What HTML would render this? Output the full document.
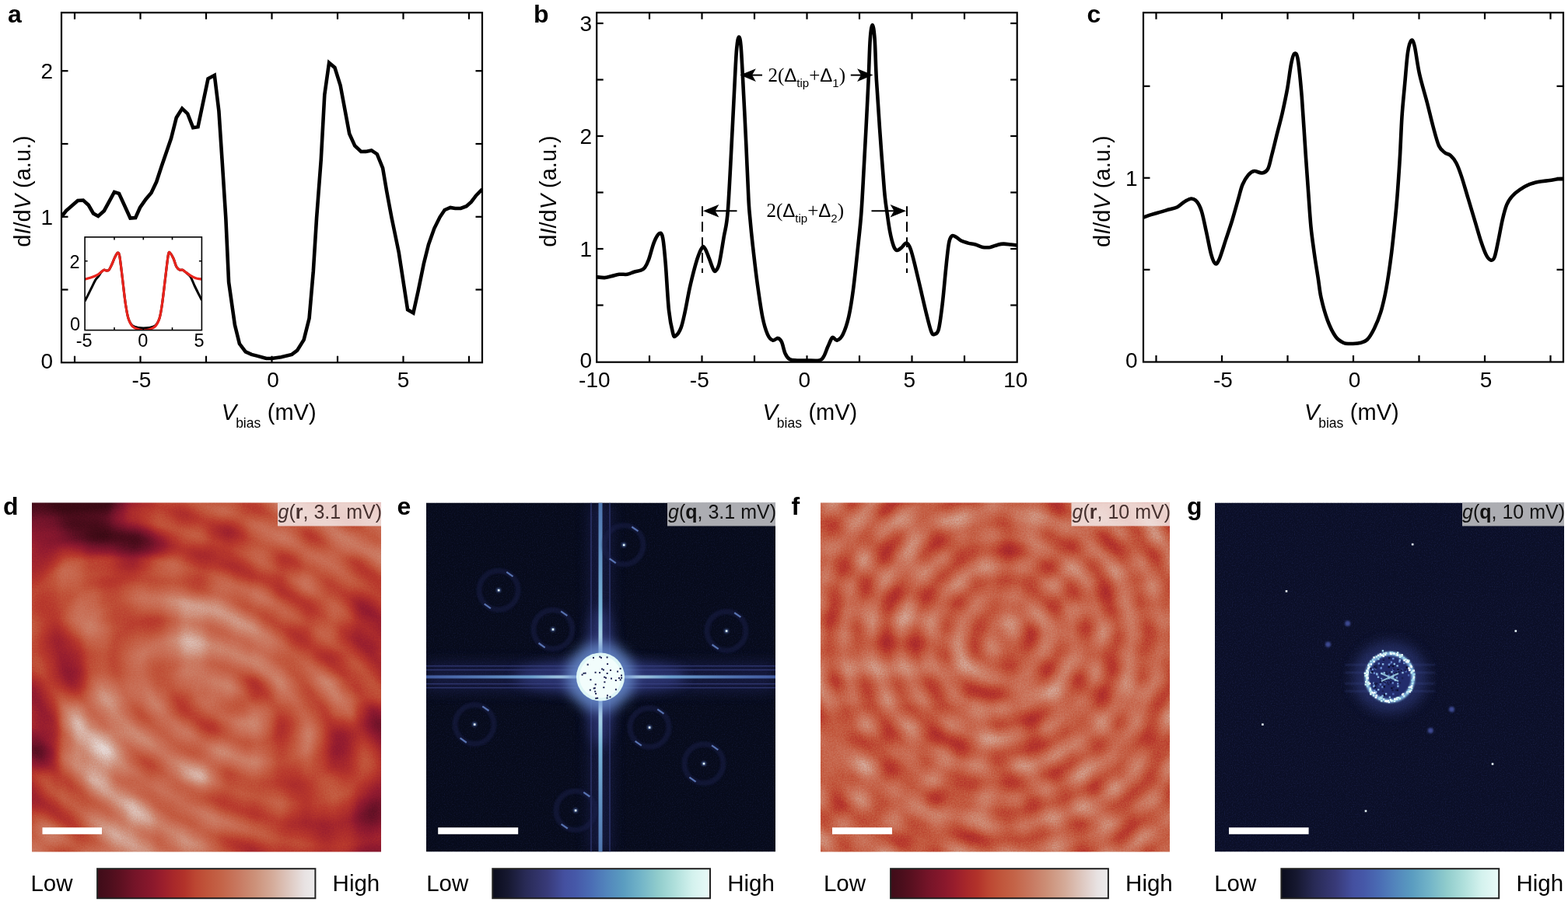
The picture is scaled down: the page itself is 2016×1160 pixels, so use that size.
<!DOCTYPE html>
<html><head><meta charset="utf-8"><title>Figure</title>
<style>
html,body{margin:0;padding:0;background:#fff;width:2016px;height:1160px;overflow:hidden}
svg{display:block}
rect.p{}
</style></head><body>
<svg width="2016" height="1160" viewBox="0 0 2016 1160">
<style>.px rect{width:17.87px;height:17.87px}</style>
<rect width="2016" height="1160" fill="#fff"/>
<g stroke="#000" stroke-width="2.2" fill="none">
<rect x="79" y="16.25" width="541" height="450.0" fill="none" stroke="#000" stroke-width="2.2"/>
<line x1="96.0" y1="466.25" x2="96.0" y2="457.75" /><line x1="96.0" y1="16.25" x2="96.0" y2="24.75" /><line x1="180.5" y1="466.25" x2="180.5" y2="457.75" /><line x1="180.5" y1="16.25" x2="180.5" y2="24.75" /><line x1="265.0" y1="466.25" x2="265.0" y2="457.75" /><line x1="265.0" y1="16.25" x2="265.0" y2="24.75" /><line x1="349.5" y1="466.25" x2="349.5" y2="457.75" /><line x1="349.5" y1="16.25" x2="349.5" y2="24.75" /><line x1="434.0" y1="466.25" x2="434.0" y2="457.75" /><line x1="434.0" y1="16.25" x2="434.0" y2="24.75" /><line x1="518.5" y1="466.25" x2="518.5" y2="457.75" /><line x1="518.5" y1="16.25" x2="518.5" y2="24.75" /><line x1="603.0" y1="466.25" x2="603.0" y2="457.75" /><line x1="603.0" y1="16.25" x2="603.0" y2="24.75" />
<line x1="79" y1="372.5" x2="87.5" y2="372.5" /><line x1="620" y1="372.5" x2="611.5" y2="372.5" /><line x1="79" y1="278.8" x2="87.5" y2="278.8" /><line x1="620" y1="278.8" x2="611.5" y2="278.8" /><line x1="79" y1="185.0" x2="87.5" y2="185.0" /><line x1="620" y1="185.0" x2="611.5" y2="185.0" /><line x1="79" y1="91.2" x2="87.5" y2="91.2" /><line x1="620" y1="91.2" x2="611.5" y2="91.2" />
</g>
<clipPath id="ca"><rect x="79" y="16.25" width="541" height="450.0"/></clipPath>
<path clip-path="url(#ca)" d="M79.0,278.8 L85.0,271.0 L100.0,258.0 L107.0,257.5 L113.8,263.8 L120.0,274.5 L126.2,278.0 L133.8,271.2 L147.0,247.0 L153.0,248.8 L167.5,280.5 L174.2,280.0 L180.0,267.0 L187.5,256.2 L194.5,248.0 L201.2,233.8 L207.5,214.5 L220.0,178.0 L226.8,151.2 L234.2,139.5 L241.2,146.2 L248.2,164.2 L254.5,163.2 L267.5,101.2 L275.8,96.8 L281.4,142.8 L285.5,204.8 L290.3,280.0 L294.1,362.8 L301.9,417.9 L307.9,442.1 L315.7,452.4 L323.4,455.9 L330.3,457.6 L342.4,461.0 L349.3,461.0 L361.4,459.3 L375.2,455.9 L382.1,450.7 L390.7,436.9 L397.6,409.3 L402.8,349.0 L407.1,280.0 L412.8,204.8 L417.3,122.0 L423.1,80.7 L430.4,86.9 L437.6,109.7 L449.2,172.0 L456.2,187.5 L464.2,195.0 L470.3,194.9 L477.6,193.4 L484.8,198.2 L492.1,216.2 L497.2,246.2 L503.4,279.3 L512.8,324.8 L524.1,398.3 L531.4,402.4 L537.6,374.5 L544.8,339.3 L551.0,314.5 L558.3,293.8 L565.5,279.3 L571.7,270.0 L579.0,266.9 L585.2,268.0 L592.4,268.0 L599.7,265.2 L605.9,259.7 L612.1,251.4 L618.3,245.2 L620.0,243.5" fill="none" stroke="#000" stroke-width="4.6" stroke-linejoin="miter" stroke-miterlimit="3"/>
<rect x="109.1" y="304.9" width="150.29999999999998" height="119.70000000000005" fill="#fff" stroke="none"/>
<clipPath id="ci"><rect x="109.1" y="304.9" width="150.29999999999998" height="119.70000000000005"/></clipPath>
<path clip-path="url(#ci)" d="M109.1,387.4 C110.4,384.9 114.4,376.8 116.7,372.2 C119.0,367.6 121.3,362.6 122.9,359.8 C124.5,357.1 125.1,357.4 126.4,355.7 C127.7,354.0 129.2,350.9 130.5,349.5 C131.8,348.1 132.9,347.3 133.9,347.1 C134.9,346.9 135.7,348.1 136.7,348.1 C137.7,348.1 138.9,348.4 140.1,347.1 C141.2,345.8 142.3,343.2 143.6,340.5 C144.9,337.8 146.4,333.4 147.7,330.8 C149.0,328.2 150.2,325.6 151.2,325.1 C152.2,324.7 152.8,325.5 153.5,328.1 C154.2,330.7 154.5,334.5 155.3,340.5 C156.1,346.5 157.1,355.4 158.1,363.9 C159.1,372.4 160.3,383.9 161.5,391.5 C162.7,399.1 163.5,404.8 165.0,409.4 C166.5,414.0 168.2,417.0 170.5,419.0 C172.8,421.0 176.5,421.0 178.8,421.5 C181.1,422.0 182.2,422.0 184.3,422.0 C186.4,422.0 188.7,422.0 191.2,421.5 C193.7,421.0 197.1,421.0 199.4,419.0 C201.7,417.0 203.5,414.0 205.0,409.4 C206.5,404.8 207.3,399.1 208.4,391.5 C209.5,383.9 210.8,372.4 211.8,363.9 C212.8,355.4 213.8,346.8 214.6,340.5 C215.4,334.2 216.0,328.5 216.7,326.0 C217.4,323.5 217.7,324.3 218.7,325.3 C219.7,326.3 221.5,329.2 222.9,332.2 C224.3,335.2 225.6,340.8 227.0,343.3 C228.4,345.8 229.8,346.5 231.1,347.1 C232.4,347.7 233.4,346.7 234.6,347.1 C235.8,347.5 236.3,348.0 238.0,349.5 C239.7,351.0 242.8,352.9 244.9,356.0 C247.0,359.1 248.0,363.0 250.4,368.0 C252.8,373.0 257.9,383.0 259.4,386.0" fill="none" stroke="#000" stroke-width="3"/>
<path clip-path="url(#ci)" d="M109.1,359.1 C110.4,358.8 114.0,357.9 116.7,357.0 C119.4,356.1 122.7,354.9 125.0,353.6 C127.3,352.4 129.0,350.6 130.5,349.5 C132.0,348.4 132.9,347.3 133.9,347.1 C134.9,346.9 135.7,348.1 136.7,348.1 C137.7,348.1 138.9,348.4 140.1,347.1 C141.2,345.8 142.3,343.2 143.6,340.5 C144.9,337.8 146.4,333.4 147.7,330.8 C149.0,328.2 150.2,325.6 151.2,325.1 C152.2,324.7 152.8,325.5 153.5,328.1 C154.2,330.7 154.5,334.5 155.3,340.5 C156.1,346.5 157.1,355.4 158.1,363.9 C159.1,372.4 160.3,383.9 161.5,391.5 C162.7,399.1 163.5,404.7 165.0,409.4 C166.5,414.1 168.2,417.4 170.5,419.8 C172.8,422.2 176.5,423.1 178.8,423.9 C181.1,424.7 182.2,424.6 184.3,424.6 C186.4,424.6 188.7,424.7 191.2,423.9 C193.7,423.1 197.1,422.2 199.4,419.8 C201.7,417.4 203.5,414.1 205.0,409.4 C206.5,404.7 207.3,399.1 208.4,391.5 C209.5,383.9 210.8,372.4 211.8,363.9 C212.8,355.4 213.8,346.8 214.6,340.5 C215.4,334.2 216.0,328.5 216.7,326.0 C217.4,323.5 217.7,324.3 218.7,325.3 C219.7,326.3 221.5,329.2 222.9,332.2 C224.3,335.2 225.6,340.8 227.0,343.3 C228.4,345.8 229.8,346.5 231.1,347.1 C232.4,347.7 233.4,346.7 234.6,347.1 C235.8,347.5 236.3,348.3 238.0,349.5 C239.7,350.7 242.6,352.9 244.9,354.3 C247.2,355.7 249.4,356.9 251.8,357.7 C254.2,358.5 258.1,358.9 259.4,359.1" fill="none" stroke="#e8231c" stroke-width="3.2"/>
<g stroke="#000" stroke-width="1.6" fill="none">
<rect x="109.1" y="304.9" width="150.29999999999998" height="119.70000000000005" fill="none" stroke="#000" stroke-width="1.6"/>
<line x1="147.0" y1="424.6" x2="147.0" y2="421.1" /><line x1="147.0" y1="304.9" x2="147.0" y2="308.4" /><line x1="184.3" y1="424.6" x2="184.3" y2="421.1" /><line x1="184.3" y1="304.9" x2="184.3" y2="308.4" /><line x1="221.5" y1="424.6" x2="221.5" y2="421.1" /><line x1="221.5" y1="304.9" x2="221.5" y2="308.4" />
<line x1="109.1" y1="335.7" x2="112.6" y2="335.7" /><line x1="259.4" y1="335.7" x2="255.89999999999998" y2="335.7" />
</g>
<text x="102.6" y="344.5" font-family="'Liberation Sans', Arial, sans-serif" font-size="23.5" font-weight="normal" font-style="normal" text-anchor="end" fill="#000" >2</text>
<text x="103.0" y="425.3" font-family="'Liberation Sans', Arial, sans-serif" font-size="23.5" font-weight="normal" font-style="normal" text-anchor="end" fill="#000" >0</text>
<text x="97.8" y="446.2" font-family="'Liberation Sans', Arial, sans-serif" font-size="23.5" font-weight="normal" font-style="normal" text-anchor="start" fill="#000" >-5</text>
<text x="177.2" y="446.2" font-family="'Liberation Sans', Arial, sans-serif" font-size="23.5" font-weight="normal" font-style="normal" text-anchor="start" fill="#000" >0</text>
<text x="249.6" y="446.2" font-family="'Liberation Sans', Arial, sans-serif" font-size="23.5" font-weight="normal" font-style="normal" text-anchor="start" fill="#000" >5</text>
<text x="10" y="28.7" font-family="'Liberation Sans', Arial, sans-serif" font-size="32" font-weight="bold" font-style="normal" text-anchor="start" fill="#000" >a</text>
<text x="68" y="101" font-family="'Liberation Sans', Arial, sans-serif" font-size="28" font-weight="normal" font-style="normal" text-anchor="end" fill="#000" >2</text>
<text x="68" y="289" font-family="'Liberation Sans', Arial, sans-serif" font-size="28" font-weight="normal" font-style="normal" text-anchor="end" fill="#000" >1</text>
<text x="68" y="474" font-family="'Liberation Sans', Arial, sans-serif" font-size="28" font-weight="normal" font-style="normal" text-anchor="end" fill="#000" >0</text>
<text x="182.0" y="497.8" font-family="'Liberation Sans', Arial, sans-serif" font-size="28" font-weight="normal" font-style="normal" text-anchor="middle" fill="#000" >-5</text>
<text x="351.0" y="497.8" font-family="'Liberation Sans', Arial, sans-serif" font-size="28" font-weight="normal" font-style="normal" text-anchor="middle" fill="#000" >0</text>
<text x="518.5" y="497.8" font-family="'Liberation Sans', Arial, sans-serif" font-size="28" font-weight="normal" font-style="normal" text-anchor="middle" fill="#000" >5</text>
<text x="284.8" y="540.3" font-family="'Liberation Sans', Arial, sans-serif" font-size="29" fill="#000"><tspan font-style="italic">V</tspan><tspan font-size="17.5" dy="9.8" dx="-1">bias</tspan><tspan dy="-9.8" dx="8.5">(mV)</tspan></text>
<text transform="translate(38.5,246) rotate(-90)" x="0" y="0" text-anchor="middle" font-family="'Liberation Sans', Arial, sans-serif" font-size="29" fill="#000">d<tspan font-style="italic">I</tspan>/d<tspan font-style="italic">V</tspan> (a.u.)</text>
<g stroke="#000" stroke-width="2.2" fill="none">
<rect x="767.2" y="16.25" width="540.5" height="449.45" fill="none" stroke="#000" stroke-width="2.2"/>
<line x1="835.0" y1="465.7" x2="835.0" y2="457.2" /><line x1="835.0" y1="16.25" x2="835.0" y2="24.75" /><line x1="902.5" y1="465.7" x2="902.5" y2="457.2" /><line x1="902.5" y1="16.25" x2="902.5" y2="24.75" /><line x1="970.0" y1="465.7" x2="970.0" y2="457.2" /><line x1="970.0" y1="16.25" x2="970.0" y2="24.75" /><line x1="1037.5" y1="465.7" x2="1037.5" y2="457.2" /><line x1="1037.5" y1="16.25" x2="1037.5" y2="24.75" /><line x1="1105.0" y1="465.7" x2="1105.0" y2="457.2" /><line x1="1105.0" y1="16.25" x2="1105.0" y2="24.75" /><line x1="1172.5" y1="465.7" x2="1172.5" y2="457.2" /><line x1="1172.5" y1="16.25" x2="1172.5" y2="24.75" /><line x1="1240.0" y1="465.7" x2="1240.0" y2="457.2" /><line x1="1240.0" y1="16.25" x2="1240.0" y2="24.75" />
<line x1="767.2" y1="392.5" x2="775.7" y2="392.5" /><line x1="1307.7" y1="392.5" x2="1299.2" y2="392.5" /><line x1="767.2" y1="320.0" x2="775.7" y2="320.0" /><line x1="1307.7" y1="320.0" x2="1299.2" y2="320.0" /><line x1="767.2" y1="247.5" x2="775.7" y2="247.5" /><line x1="1307.7" y1="247.5" x2="1299.2" y2="247.5" /><line x1="767.2" y1="175.0" x2="775.7" y2="175.0" /><line x1="1307.7" y1="175.0" x2="1299.2" y2="175.0" /><line x1="767.2" y1="102.5" x2="775.7" y2="102.5" /><line x1="1307.7" y1="102.5" x2="1299.2" y2="102.5" /><line x1="767.2" y1="30.0" x2="775.7" y2="30.0" /><line x1="1307.7" y1="30.0" x2="1299.2" y2="30.0" />
</g>
<path d="M767.2,356.2 C768.9,356.4 774.1,357.2 777.2,357.1 C780.3,357.0 782.7,356.0 785.9,355.3 C789.1,354.6 792.8,353.2 796.2,352.8 C799.7,352.4 803.4,353.3 806.6,352.8 C809.8,352.3 812.3,350.6 815.2,349.7 C818.1,348.8 821.5,348.5 823.8,347.6 C826.1,346.7 827.3,346.4 829.0,344.1 C830.7,341.8 832.1,339.2 834.1,333.8 C836.1,328.4 838.7,317.0 841.0,311.4 C843.3,305.8 846.0,301.1 847.9,300.2 C849.8,299.3 850.9,299.7 852.2,306.2 C853.5,312.7 854.4,323.5 855.7,339.0 C857.0,354.5 858.4,384.4 860.0,399.3 C861.6,414.2 863.8,423.1 865.2,428.6 C866.6,434.1 866.9,433.2 868.6,432.1 C870.3,431.0 873.5,426.9 875.5,421.7 C877.5,416.5 878.7,410.2 880.7,401.0 C882.7,391.8 885.0,377.8 887.6,366.6 C890.2,355.4 893.7,341.9 896.2,333.8 C898.7,325.8 901.1,320.6 902.8,318.3 C904.5,316.0 905.1,317.7 906.6,320.0 C908.1,322.3 910.0,327.8 911.7,332.1 C913.4,336.4 915.5,343.2 916.9,345.9 C918.3,348.6 918.7,349.5 920.0,348.4 C921.3,347.2 922.9,346.3 924.7,339.0 C926.5,331.7 928.8,316.0 930.7,304.5 C932.6,293.0 934.1,293.3 935.9,270.0 C937.7,246.7 940.2,192.7 941.7,164.8 C943.2,136.9 943.9,119.9 944.8,102.8 C945.7,85.7 946.3,71.2 947.2,62.0 C948.1,52.8 949.1,47.5 950.0,47.5 C950.9,47.5 951.8,49.3 952.8,62.0 C953.8,74.7 955.1,102.9 956.2,123.5 C957.3,144.1 958.3,163.6 959.3,185.5 C960.3,207.4 961.6,239.5 962.4,255.0 C963.2,270.5 963.2,268.2 964.1,278.4 C965.0,288.6 966.3,302.2 967.9,316.4 C969.5,330.6 971.5,348.6 973.6,363.8 C975.7,379.0 978.1,396.3 980.3,407.4 C982.5,418.5 984.7,425.1 986.9,430.2 C989.1,435.2 991.3,436.9 993.5,437.7 C995.7,438.5 998.3,434.6 1000.2,434.9 C1002.1,435.2 1003.3,436.3 1004.9,439.6 C1006.5,442.9 1007.9,451.1 1009.6,454.8 C1011.3,458.5 1012.8,460.6 1015.3,462.0 C1017.8,463.4 1021.2,463.2 1024.8,463.5 C1028.4,463.8 1032.3,463.5 1037.1,463.5 C1041.8,463.5 1049.6,464.3 1053.3,463.5 C1057.0,462.7 1057.1,461.6 1059.0,458.6 C1060.9,455.6 1062.7,449.4 1064.6,445.3 C1066.5,441.2 1068.4,435.3 1070.3,434.0 C1072.2,432.7 1073.8,438.3 1076.0,437.7 C1078.2,437.1 1081.1,435.2 1083.6,430.2 C1086.1,425.1 1089.0,416.9 1091.2,407.4 C1093.4,397.9 1095.0,387.5 1096.9,373.3 C1098.8,359.1 1100.9,338.5 1102.6,322.1 C1104.3,305.7 1106.0,291.7 1107.3,274.7 C1108.6,257.7 1109.5,238.3 1110.5,220.0 C1111.5,201.7 1112.5,184.3 1113.5,164.8 C1114.5,145.3 1115.7,121.9 1116.6,102.8 C1117.5,83.7 1117.9,61.8 1118.8,50.0 C1119.7,38.2 1120.7,32.0 1121.7,32.0 C1122.7,32.0 1123.7,38.2 1124.6,50.0 C1125.5,61.8 1125.8,83.7 1126.9,102.8 C1128.0,121.9 1129.3,141.1 1131.0,164.8 C1132.7,188.5 1135.4,227.0 1137.0,245.0 C1138.6,263.0 1139.2,264.1 1140.4,272.8 C1141.6,281.5 1142.7,290.1 1144.1,297.4 C1145.5,304.7 1147.4,312.3 1148.9,316.4 C1150.4,320.5 1151.6,321.7 1153.3,322.0 C1155.0,322.3 1157.3,319.9 1159.3,318.3 C1161.3,316.7 1163.5,312.2 1165.4,312.5 C1167.3,312.8 1168.9,315.4 1170.7,320.2 C1172.5,325.0 1174.2,332.2 1176.4,341.1 C1178.6,350.0 1181.5,362.6 1184.0,373.3 C1186.5,384.1 1189.4,396.8 1191.6,405.6 C1193.8,414.5 1195.7,422.3 1197.3,426.4 C1198.9,430.5 1199.5,430.5 1201.1,430.0 C1202.7,429.5 1205.1,429.9 1206.8,423.6 C1208.5,417.3 1209.9,405.4 1211.5,392.3 C1213.1,379.2 1214.8,358.2 1216.2,344.9 C1217.6,331.6 1218.7,319.5 1220.0,312.6 C1221.3,305.7 1222.2,304.8 1223.8,303.5 C1225.4,302.2 1227.4,303.9 1229.5,305.0 C1231.6,306.1 1233.7,308.5 1236.2,309.8 C1238.7,311.1 1241.7,311.8 1244.7,312.6 C1247.7,313.4 1251.0,313.6 1254.2,314.5 C1257.4,315.4 1260.5,317.3 1263.7,317.9 C1266.9,318.5 1270.1,318.4 1273.2,317.9 C1276.3,317.4 1279.8,315.6 1282.6,314.9 C1285.4,314.2 1287.3,313.7 1290.2,313.6 C1293.1,313.5 1296.8,314.2 1299.7,314.5 C1302.6,314.8 1306.4,315.3 1307.7,315.5" fill="none" stroke="#000" stroke-width="4.6" stroke-linejoin="round"/>
<g stroke="#000" stroke-width="2" stroke-dasharray="12.8,7.2" stroke-dashoffset="-3.8">
<line x1="903" y1="261.5" x2="903" y2="351"/>
<line x1="1166" y1="261.5" x2="1166" y2="351"/>
</g>
<line x1="980" y1="96.6" x2="961.5" y2="96.6" stroke="#000" stroke-width="2"/><path d="M951.5,96.6 L971.9,88.3 L967.0,96.6 L971.9,104.89999999999999 Z" fill="#000"/>
<line x1="1093.8" y1="96.6" x2="1112.5" y2="96.6" stroke="#000" stroke-width="2"/><path d="M1122.5,96.6 L1102.1,88.3 L1107.0,96.6 L1102.1,104.89999999999999 Z" fill="#000"/>
<line x1="947.5" y1="271.2" x2="914" y2="271.2" stroke="#000" stroke-width="2"/><path d="M904,271.2 L924.4,262.9 L919.5,271.2 L924.4,279.5 Z" fill="#000"/>
<line x1="1120.5" y1="271.2" x2="1155" y2="271.2" stroke="#000" stroke-width="2"/><path d="M1165,271.2 L1144.6,262.9 L1149.5,271.2 L1144.6,279.5 Z" fill="#000"/>
<text x="987.5" y="104.5" font-family="'Liberation Serif', 'Times New Roman', serif" font-size="25" fill="#000">2(<tspan font-family="'Liberation Sans', Arial, sans-serif" font-size="24">Δ</tspan><tspan font-family="'Liberation Sans', Arial, sans-serif" font-size="15" dy="7">tip</tspan><tspan dy="-7">+</tspan><tspan font-family="'Liberation Sans', Arial, sans-serif" font-size="24">Δ</tspan><tspan font-family="'Liberation Sans', Arial, sans-serif" font-size="15" dy="7">1</tspan><tspan dy="-7">)</tspan></text>
<text x="985.5" y="279.4" font-family="'Liberation Serif', 'Times New Roman', serif" font-size="25" fill="#000">2(<tspan font-family="'Liberation Sans', Arial, sans-serif" font-size="24">Δ</tspan><tspan font-family="'Liberation Sans', Arial, sans-serif" font-size="15" dy="7">tip</tspan><tspan dy="-7">+</tspan><tspan font-family="'Liberation Sans', Arial, sans-serif" font-size="24">Δ</tspan><tspan font-family="'Liberation Sans', Arial, sans-serif" font-size="15" dy="7">2</tspan><tspan dy="-7">)</tspan></text>
<text x="686" y="28.5" font-family="'Liberation Sans', Arial, sans-serif" font-size="32" font-weight="bold" font-style="normal" text-anchor="start" fill="#000" >b</text>
<text x="761" y="40.2" font-family="'Liberation Sans', Arial, sans-serif" font-size="28" font-weight="normal" font-style="normal" text-anchor="end" fill="#000" >3</text>
<text x="761" y="185.2" font-family="'Liberation Sans', Arial, sans-serif" font-size="28" font-weight="normal" font-style="normal" text-anchor="end" fill="#000" >2</text>
<text x="761" y="330.2" font-family="'Liberation Sans', Arial, sans-serif" font-size="28" font-weight="normal" font-style="normal" text-anchor="end" fill="#000" >1</text>
<text x="761" y="473.2" font-family="'Liberation Sans', Arial, sans-serif" font-size="28" font-weight="normal" font-style="normal" text-anchor="end" fill="#000" >0</text>
<text x="764.3" y="497.5" font-family="'Liberation Sans', Arial, sans-serif" font-size="28" font-weight="normal" font-style="normal" text-anchor="middle" fill="#000" >-10</text>
<text x="899.3" y="497.5" font-family="'Liberation Sans', Arial, sans-serif" font-size="28" font-weight="normal" font-style="normal" text-anchor="middle" fill="#000" >-5</text>
<text x="1034.3" y="497.5" font-family="'Liberation Sans', Arial, sans-serif" font-size="28" font-weight="normal" font-style="normal" text-anchor="middle" fill="#000" >0</text>
<text x="1169.3" y="497.5" font-family="'Liberation Sans', Arial, sans-serif" font-size="28" font-weight="normal" font-style="normal" text-anchor="middle" fill="#000" >5</text>
<text x="1305.8" y="497.5" font-family="'Liberation Sans', Arial, sans-serif" font-size="28" font-weight="normal" font-style="normal" text-anchor="middle" fill="#000" >10</text>
<text x="980.5" y="540.3" font-family="'Liberation Sans', Arial, sans-serif" font-size="29" fill="#000"><tspan font-style="italic">V</tspan><tspan font-size="17.5" dy="9.8" dx="-1">bias</tspan><tspan dy="-9.8" dx="8.5">(mV)</tspan></text>
<text transform="translate(715,246) rotate(-90)" x="0" y="0" text-anchor="middle" font-family="'Liberation Sans', Arial, sans-serif" font-size="29" fill="#000">d<tspan font-style="italic">I</tspan>/d<tspan font-style="italic">V</tspan> (a.u.)</text>
<g stroke="#000" stroke-width="2.2" fill="none">
<rect x="1470" y="16.25" width="540" height="449.25" fill="none" stroke="#000" stroke-width="2.2"/>
<line x1="1486.5" y1="465.5" x2="1486.5" y2="457.0" /><line x1="1486.5" y1="16.25" x2="1486.5" y2="24.75" /><line x1="1571.0" y1="465.5" x2="1571.0" y2="457.0" /><line x1="1571.0" y1="16.25" x2="1571.0" y2="24.75" /><line x1="1655.5" y1="465.5" x2="1655.5" y2="457.0" /><line x1="1655.5" y1="16.25" x2="1655.5" y2="24.75" /><line x1="1740.0" y1="465.5" x2="1740.0" y2="457.0" /><line x1="1740.0" y1="16.25" x2="1740.0" y2="24.75" /><line x1="1824.5" y1="465.5" x2="1824.5" y2="457.0" /><line x1="1824.5" y1="16.25" x2="1824.5" y2="24.75" /><line x1="1909.0" y1="465.5" x2="1909.0" y2="457.0" /><line x1="1909.0" y1="16.25" x2="1909.0" y2="24.75" /><line x1="1993.5" y1="465.5" x2="1993.5" y2="457.0" /><line x1="1993.5" y1="16.25" x2="1993.5" y2="24.75" />
<line x1="1470" y1="346.8" x2="1478.5" y2="346.8" /><line x1="2010" y1="346.8" x2="2001.5" y2="346.8" /><line x1="1470" y1="228.8" x2="1478.5" y2="228.8" /><line x1="2010" y1="228.8" x2="2001.5" y2="228.8" /><line x1="1470" y1="110.8" x2="1478.5" y2="110.8" /><line x1="2010" y1="110.8" x2="2001.5" y2="110.8" />
</g>
<path d="M1469.9,279.7 C1471.7,279.1 1476.8,277.1 1480.7,275.9 C1484.6,274.7 1489.3,273.5 1493.1,272.4 C1496.9,271.3 1500.0,270.3 1503.4,269.3 C1506.9,268.3 1510.7,267.8 1513.8,266.2 C1516.9,264.6 1519.2,261.8 1522.1,260.0 C1525.0,258.2 1528.7,255.7 1531.4,255.5 C1534.2,255.3 1536.4,256.4 1538.6,259.0 C1540.8,261.6 1542.7,264.8 1544.8,271.4 C1546.9,277.9 1548.9,289.0 1551.0,298.3 C1553.1,307.6 1555.3,320.4 1557.2,327.2 C1559.1,334.0 1560.7,337.9 1562.4,339.0 C1564.1,340.1 1565.3,338.6 1567.6,333.5 C1569.8,328.4 1573.2,316.9 1575.9,308.6 C1578.7,300.3 1581.3,292.8 1584.1,283.8 C1586.8,274.8 1590.2,262.5 1592.4,254.8 C1594.6,247.1 1595.4,242.5 1597.5,237.5 C1599.6,232.5 1602.5,227.9 1605.0,225.0 C1607.5,222.1 1609.6,220.4 1612.5,220.0 C1615.4,219.6 1619.6,222.9 1622.5,222.5 C1625.4,222.1 1627.9,221.2 1630.0,217.5 C1632.1,213.8 1633.1,207.1 1635.0,200.0 C1636.9,192.9 1639.0,184.2 1641.2,175.0 C1643.5,165.8 1646.5,155.0 1648.8,145.0 C1651.0,135.0 1653.1,125.4 1655.0,115.0 C1656.9,104.6 1658.5,90.2 1660.0,82.5 C1661.5,74.8 1662.8,69.9 1664.2,69.0 C1665.7,68.1 1667.2,67.7 1668.8,77.0 C1670.3,86.3 1672.1,104.5 1673.8,125.0 C1675.4,145.5 1677.3,179.1 1678.8,200.0 C1680.2,220.9 1681.3,235.4 1682.4,250.7 C1683.5,266.0 1684.3,279.6 1685.5,292.0 C1686.7,304.4 1688.2,314.1 1689.7,325.2 C1691.2,336.2 1693.3,348.6 1694.8,358.3 C1696.3,368.0 1696.6,374.1 1698.6,383.1 C1700.6,392.1 1703.8,403.8 1706.9,412.1 C1710.0,420.4 1713.8,428.0 1717.2,432.8 C1720.7,437.6 1724.5,439.5 1727.6,441.0 C1730.7,442.5 1732.5,442.0 1735.9,442.0 C1739.4,442.0 1744.7,441.8 1748.3,441.0 C1751.9,440.2 1754.5,440.1 1757.6,437.0 C1760.7,433.9 1764.0,428.3 1766.9,422.4 C1769.8,416.5 1772.6,410.3 1775.2,401.7 C1777.8,393.1 1780.2,382.8 1782.4,370.7 C1784.6,358.6 1786.7,344.1 1788.6,329.3 C1790.5,314.5 1792.4,295.5 1793.8,281.7 C1795.2,267.9 1795.9,260.2 1796.9,246.6 C1797.9,233.0 1799.1,216.1 1800.0,200.0 C1800.9,183.9 1801.5,165.4 1802.5,150.0 C1803.5,134.6 1805.0,121.2 1806.2,107.5 C1807.5,93.8 1808.6,76.8 1810.0,67.5 C1811.4,58.2 1813.0,53.3 1814.5,52.0 C1816.0,50.7 1817.0,52.3 1818.8,59.5 C1820.5,66.7 1822.3,82.8 1825.0,95.0 C1827.7,107.2 1832.1,121.2 1835.0,132.5 C1837.9,143.8 1840.0,153.3 1842.5,162.5 C1845.0,171.7 1847.5,181.9 1850.0,187.5 C1852.5,193.1 1855.0,194.2 1857.5,196.2 C1860.0,198.3 1862.5,197.8 1865.0,200.0 C1867.5,202.2 1870.0,205.1 1872.4,209.7 C1874.8,214.3 1876.8,220.0 1879.3,227.6 C1881.8,235.2 1884.8,246.0 1887.6,255.2 C1890.4,264.4 1893.2,273.6 1895.9,282.8 C1898.7,292.0 1901.6,302.7 1904.1,310.3 C1906.6,317.9 1908.9,324.3 1911.0,328.3 C1913.1,332.3 1914.9,334.1 1916.6,334.5 C1918.3,334.9 1919.8,335.0 1921.4,331.0 C1923.0,327.0 1924.5,318.3 1926.2,310.3 C1927.9,302.3 1929.9,290.6 1931.7,282.8 C1933.5,275.0 1935.1,268.5 1937.2,263.4 C1939.3,258.3 1941.3,255.6 1944.1,252.4 C1946.9,249.2 1950.1,246.6 1953.8,244.1 C1957.5,241.6 1962.1,238.9 1966.2,237.2 C1970.3,235.5 1974.2,234.7 1978.6,233.8 C1983.0,232.9 1988.3,232.6 1992.4,232.0 C1996.5,231.4 2000.5,230.6 2003.4,230.3 C2006.3,230.0 2008.7,230.1 2009.7,230.1" fill="none" stroke="#000" stroke-width="4.6" stroke-linejoin="round"/>
<text x="1397.5" y="28.7" font-family="'Liberation Sans', Arial, sans-serif" font-size="32" font-weight="bold" font-style="normal" text-anchor="start" fill="#000" >c</text>
<text x="1462.5" y="238.95" font-family="'Liberation Sans', Arial, sans-serif" font-size="28" font-weight="normal" font-style="normal" text-anchor="end" fill="#000" >1</text>
<text x="1462.5" y="473.25" font-family="'Liberation Sans', Arial, sans-serif" font-size="28" font-weight="normal" font-style="normal" text-anchor="end" fill="#000" >0</text>
<text x="1572.5" y="497.5" font-family="'Liberation Sans', Arial, sans-serif" font-size="28" font-weight="normal" font-style="normal" text-anchor="middle" fill="#000" >-5</text>
<text x="1741.5" y="497.5" font-family="'Liberation Sans', Arial, sans-serif" font-size="28" font-weight="normal" font-style="normal" text-anchor="middle" fill="#000" >0</text>
<text x="1910.5" y="497.5" font-family="'Liberation Sans', Arial, sans-serif" font-size="28" font-weight="normal" font-style="normal" text-anchor="middle" fill="#000" >5</text>
<text x="1676.9" y="540.3" font-family="'Liberation Sans', Arial, sans-serif" font-size="29" fill="#000"><tspan font-style="italic">V</tspan><tspan font-size="17.5" dy="9.8" dx="-1">bias</tspan><tspan dy="-9.8" dx="8.5">(mV)</tspan></text>
<text transform="translate(1427,246.2) rotate(-90)" x="0" y="0" text-anchor="middle" font-family="'Liberation Sans', Arial, sans-serif" font-size="29" fill="#000">d<tspan font-style="italic">I</tspan>/d<tspan font-style="italic">V</tspan> (a.u.)</text>

<defs>
<filter id="bl8" x="-5%" y="-5%" width="110%" height="110%"><feGaussianBlur stdDeviation="6"/></filter>
<filter id="bl3"><feGaussianBlur stdDeviation="3"/></filter>
<filter id="bl6" x="-50%" y="-50%" width="200%" height="200%"><feGaussianBlur stdDeviation="8"/></filter>
<filter id="bl1" x="-50%" y="-50%" width="200%" height="200%"><feGaussianBlur stdDeviation="1.2"/></filter>
<filter id="bl2" x="-50%" y="-50%" width="200%" height="200%"><feGaussianBlur stdDeviation="2"/></filter>
<clipPath id="clipd"><rect x="41" y="646.5" width="449" height="449"/></clipPath>
<clipPath id="clipe"><rect x="548" y="646.5" width="449" height="449"/></clipPath>
<clipPath id="clipf"><rect x="1055" y="646.5" width="449" height="449"/></clipPath>
<clipPath id="clipg"><rect x="1562" y="646.5" width="449" height="449"/></clipPath>
<linearGradient id="gr" x1="0" x2="1" y1="0" y2="0"><stop offset="0" stop-color="#3e0c18"/><stop offset="0.05" stop-color="#4a0e1c"/><stop offset="0.1" stop-color="#5a1020"/><stop offset="0.17" stop-color="#741428"/><stop offset="0.25" stop-color="#8a182c"/><stop offset="0.3" stop-color="#9a1e2c"/><stop offset="0.35" stop-color="#a8282a"/><stop offset="0.4" stop-color="#b2322a"/><stop offset="0.45" stop-color="#bc4632"/><stop offset="0.5" stop-color="#c0543a"/><stop offset="0.57" stop-color="#c46448"/><stop offset="0.65" stop-color="#c87a62"/><stop offset="0.72" stop-color="#cc9078"/><stop offset="0.8" stop-color="#d4aa98"/><stop offset="0.88" stop-color="#dec8c0"/><stop offset="0.95" stop-color="#e8e2e2"/><stop offset="1" stop-color="#ecebec"/></linearGradient>
<linearGradient id="gb" x1="0" x2="1" y1="0" y2="0"><stop offset="0" stop-color="#0a0c1c"/><stop offset="0.07" stop-color="#161830"/><stop offset="0.15" stop-color="#282a55"/><stop offset="0.25" stop-color="#383a78"/><stop offset="0.33" stop-color="#4450a0"/><stop offset="0.38" stop-color="#4658a8"/><stop offset="0.45" stop-color="#4a6cb4"/><stop offset="0.52" stop-color="#5284bc"/><stop offset="0.6" stop-color="#5a9cc0"/><stop offset="0.68" stop-color="#72b4c8"/><stop offset="0.76" stop-color="#90cccc"/><stop offset="0.84" stop-color="#b0e0dc"/><stop offset="0.92" stop-color="#d4f2ee"/><stop offset="1" stop-color="#eafaf8"/></linearGradient>
<filter id="fd" filterUnits="userSpaceOnUse" x="11" y="616.5" width="509" height="509" color-interpolation-filters="sRGB"><feColorMatrix in="SourceGraphic" type="matrix" values="1 0 0 0 0 1 0 0 0 0 1 0 0 0 0 0 0 0 0 1" result="r0"/><feGaussianBlur in="r0" stdDeviation="6" result="base"/><feColorMatrix in="SourceGraphic" type="matrix" values="0 1 0 0 0 0 1 0 0 0 0 1 0 0 0 0 0 0 0 1" result="g0"/><feGaussianBlur in="g0" stdDeviation="3" result="ring"/><feTurbulence type="fractalNoise" baseFrequency="0.025" numOctaves="1" seed="3" result="nz"/><feColorMatrix in="nz" type="matrix" values="1 0 0 0 0 1 0 0 0 0 1 0 0 0 0 0 0 0 0 1" result="n1"/><feTurbulence type="fractalNoise" baseFrequency="0.6" numOctaves="1" seed="8" result="gz"/><feColorMatrix in="gz" type="matrix" values="1 0 0 0 0 1 0 0 0 0 1 0 0 0 0 0 0 0 0 1" result="g1"/><feComposite in="base" in2="ring" operator="arithmetic" k1="0" k2="1" k3="0.16" k4="-0.08" result="s0"/><feComposite in="s0" in2="n1" operator="arithmetic" k1="0" k2="1" k3="0.3" k4="-0.15" result="s1"/><feComposite in="s1" in2="g1" operator="arithmetic" k1="0" k2="1" k3="0.1" k4="-0.05" result="s2"/><feComponentTransfer in="s2"><feFuncR type="table" tableValues="0.231 0.260 0.290 0.323 0.361 0.399 0.435 0.468 0.502 0.533 0.563 0.594 0.624 0.653 0.680 0.703 0.725 0.738 0.750 0.761 0.771 0.780 0.788 0.794 0.800 0.808 0.815 0.826 0.841 0.856 0.876 0.899 0.922"/><feFuncG type="table" tableValues="0.039 0.044 0.048 0.054 0.061 0.068 0.074 0.080 0.086 0.094 0.102 0.115 0.135 0.156 0.178 0.203 0.227 0.267 0.307 0.343 0.375 0.406 0.438 0.472 0.506 0.547 0.589 0.633 0.682 0.731 0.786 0.844 0.902"/><feFuncB type="table" tableValues="0.078 0.092 0.106 0.120 0.135 0.150 0.161 0.169 0.176 0.181 0.186 0.186 0.180 0.175 0.173 0.175 0.176 0.195 0.213 0.239 0.273 0.307 0.341 0.377 0.412 0.462 0.513 0.568 0.627 0.687 0.757 0.833 0.910"/></feComponentTransfer></filter>
<filter id="ff" filterUnits="userSpaceOnUse" x="1025" y="616.5" width="509" height="509" color-interpolation-filters="sRGB"><feGaussianBlur in="SourceGraphic" stdDeviation="2.5" result="base"/><feTurbulence type="fractalNoise" baseFrequency="0.032" numOctaves="1" seed="11" result="nz"/><feColorMatrix in="nz" type="matrix" values="1 0 0 0 0 1 0 0 0 0 1 0 0 0 0 0 0 0 0 1" result="n1"/><feTurbulence type="fractalNoise" baseFrequency="0.6" numOctaves="1" seed="16" result="gz"/><feColorMatrix in="gz" type="matrix" values="1 0 0 0 0 1 0 0 0 0 1 0 0 0 0 0 0 0 0 1" result="g1"/><feComposite in="base" in2="n1" operator="arithmetic" k1="0" k2="1" k3="0.5" k4="-0.25" result="s1"/><feComposite in="s1" in2="g1" operator="arithmetic" k1="0" k2="1" k3="0.18" k4="-0.09" result="s2"/><feComponentTransfer in="s2"><feFuncR type="table" tableValues="0.231 0.260 0.290 0.323 0.361 0.399 0.435 0.468 0.502 0.533 0.563 0.594 0.624 0.653 0.680 0.703 0.725 0.738 0.750 0.761 0.771 0.780 0.788 0.794 0.800 0.808 0.815 0.826 0.841 0.856 0.876 0.899 0.922"/><feFuncG type="table" tableValues="0.039 0.044 0.048 0.054 0.061 0.068 0.074 0.080 0.086 0.094 0.102 0.115 0.135 0.156 0.178 0.203 0.227 0.267 0.307 0.343 0.375 0.406 0.438 0.472 0.506 0.547 0.589 0.633 0.682 0.731 0.786 0.844 0.902"/><feFuncB type="table" tableValues="0.078 0.092 0.106 0.120 0.135 0.150 0.161 0.169 0.176 0.181 0.186 0.186 0.180 0.175 0.173 0.175 0.176 0.195 0.213 0.239 0.273 0.307 0.341 0.377 0.412 0.462 0.513 0.568 0.627 0.687 0.757 0.833 0.910"/></feComponentTransfer></filter>
<filter id="grainb" x="0" y="0" width="100%" height="100%" color-interpolation-filters="sRGB"><feTurbulence type="fractalNoise" baseFrequency="0.7" numOctaves="1" seed="9"/><feColorMatrix type="matrix" values="0 0 0 0 0.16  0 0 0 0 0.19  0 0 0 0 0.42  1.6 0 0 0 -0.75"/></filter>
<linearGradient id="ehg" gradientUnits="userSpaceOnUse" x1="548" y1="0" x2="997" y2="0"><stop offset="0" stop-color="#4d6bb8" stop-opacity="0.8"/><stop offset="0.3" stop-color="#6a9ccc"/><stop offset="0.5" stop-color="#e8fafa"/><stop offset="0.7" stop-color="#6a9ccc"/><stop offset="1" stop-color="#4d6bb8" stop-opacity="0.8"/></linearGradient>
<linearGradient id="evg" gradientUnits="userSpaceOnUse" x1="0" y1="646.5" x2="0" y2="1095.5"><stop offset="0" stop-color="#5a86c4" stop-opacity="0.85"/><stop offset="0.3" stop-color="#78b4d8"/><stop offset="0.5" stop-color="#f0fcfc"/><stop offset="0.7" stop-color="#78b4d8"/><stop offset="1" stop-color="#5a86c4" stop-opacity="0.85"/></linearGradient>
<radialGradient id="rf" gradientUnits="userSpaceOnUse" cx="1288" cy="821" r="37" spreadMethod="repeat"><stop offset="0" stop-color="#8e8e8e"/><stop offset="0.5" stop-color="#b6b6b6"/><stop offset="1" stop-color="#8e8e8e"/></radialGradient>
<radialGradient id="rd" gradientUnits="userSpaceOnUse" cx="0" cy="0" r="40" spreadMethod="repeat" gradientTransform="translate(289,902) rotate(30) scale(2,1)"><stop offset="0" stop-color="#000000"/><stop offset="0.5" stop-color="#00ff00"/><stop offset="1" stop-color="#000000"/></radialGradient>
</defs>
<g clip-path="url(#clipd)"><g class="px" filter="url(#fd)"><rect x="6.5" y="612.0" fill="#180000"/><rect x="23.7" y="612.0" fill="#180000"/><rect x="41.0" y="612.0" fill="#1a0000"/><rect x="58.3" y="612.0" fill="#130000"/><rect x="75.5" y="612.0" fill="#020000"/><rect x="92.8" y="612.0" fill="#000000"/><rect x="110.1" y="612.0" fill="#000000"/><rect x="127.3" y="612.0" fill="#070000"/><rect x="144.6" y="612.0" fill="#360000"/><rect x="161.9" y="612.0" fill="#660000"/><rect x="179.2" y="612.0" fill="#7c0000"/><rect x="196.4" y="612.0" fill="#850000"/><rect x="213.7" y="612.0" fill="#890000"/><rect x="231.0" y="612.0" fill="#870000"/><rect x="248.2" y="612.0" fill="#860000"/><rect x="265.5" y="612.0" fill="#850000"/><rect x="282.8" y="612.0" fill="#890000"/><rect x="300.0" y="612.0" fill="#920000"/><rect x="317.3" y="612.0" fill="#9b0000"/><rect x="334.6" y="612.0" fill="#a60000"/><rect x="351.8" y="612.0" fill="#ab0000"/><rect x="369.1" y="612.0" fill="#a30000"/><rect x="386.4" y="612.0" fill="#990000"/><rect x="403.7" y="612.0" fill="#980000"/><rect x="420.9" y="612.0" fill="#990000"/><rect x="438.2" y="612.0" fill="#990000"/><rect x="455.5" y="612.0" fill="#990000"/><rect x="472.7" y="612.0" fill="#990000"/><rect x="490.0" y="612.0" fill="#990000"/><rect x="507.3" y="612.0" fill="#990000"/><rect x="6.5" y="629.2" fill="#150000"/><rect x="23.7" y="629.2" fill="#160000"/><rect x="41.0" y="629.2" fill="#180000"/><rect x="58.3" y="629.2" fill="#110000"/><rect x="75.5" y="629.2" fill="#000000"/><rect x="92.8" y="629.2" fill="#000000"/><rect x="110.1" y="629.2" fill="#000000"/><rect x="127.3" y="629.2" fill="#070000"/><rect x="144.6" y="629.2" fill="#370000"/><rect x="161.9" y="629.2" fill="#680000"/><rect x="179.2" y="629.2" fill="#7e0000"/><rect x="196.4" y="629.2" fill="#860000"/><rect x="213.7" y="629.2" fill="#890000"/><rect x="231.0" y="629.2" fill="#870000"/><rect x="248.2" y="629.2" fill="#860000"/><rect x="265.5" y="629.2" fill="#860000"/><rect x="282.8" y="629.2" fill="#8a0000"/><rect x="300.0" y="629.2" fill="#920000"/><rect x="317.3" y="629.2" fill="#9c0000"/><rect x="334.6" y="629.2" fill="#a70000"/><rect x="351.8" y="629.2" fill="#ac0000"/><rect x="369.1" y="629.2" fill="#a40000"/><rect x="386.4" y="629.2" fill="#9a0000"/><rect x="403.7" y="629.2" fill="#980000"/><rect x="420.9" y="629.2" fill="#980000"/><rect x="438.2" y="629.2" fill="#980000"/><rect x="455.5" y="629.2" fill="#980000"/><rect x="472.7" y="629.2" fill="#980000"/><rect x="490.0" y="629.2" fill="#980000"/><rect x="507.3" y="629.2" fill="#980000"/><rect x="6.5" y="646.5" fill="#120000"/><rect x="23.7" y="646.5" fill="#130000"/><rect x="41.0" y="646.5" fill="#140000"/><rect x="58.3" y="646.5" fill="#0d0000"/><rect x="75.5" y="646.5" fill="#000000"/><rect x="92.8" y="646.5" fill="#000000"/><rect x="110.1" y="646.5" fill="#000000"/><rect x="127.3" y="646.5" fill="#050000"/><rect x="144.6" y="646.5" fill="#380000"/><rect x="161.9" y="646.5" fill="#6b0000"/><rect x="179.2" y="646.5" fill="#810000"/><rect x="196.4" y="646.5" fill="#870000"/><rect x="213.7" y="646.5" fill="#8a0000"/><rect x="231.0" y="646.5" fill="#870000"/><rect x="248.2" y="646.5" fill="#860000"/><rect x="265.5" y="646.5" fill="#870000"/><rect x="282.8" y="646.5" fill="#8b0000"/><rect x="300.0" y="646.5" fill="#930000"/><rect x="317.3" y="646.5" fill="#9c0000"/><rect x="334.6" y="646.5" fill="#a70000"/><rect x="351.8" y="646.5" fill="#ad0000"/><rect x="369.1" y="646.5" fill="#a50000"/><rect x="386.4" y="646.5" fill="#9a0000"/><rect x="403.7" y="646.5" fill="#980000"/><rect x="420.9" y="646.5" fill="#980000"/><rect x="438.2" y="646.5" fill="#970000"/><rect x="455.5" y="646.5" fill="#970000"/><rect x="472.7" y="646.5" fill="#970000"/><rect x="490.0" y="646.5" fill="#970000"/><rect x="507.3" y="646.5" fill="#970000"/><rect x="6.5" y="663.8" fill="#230000"/><rect x="23.7" y="663.8" fill="#240000"/><rect x="41.0" y="663.8" fill="#250000"/><rect x="58.3" y="663.8" fill="#1f0000"/><rect x="75.5" y="663.8" fill="#100000"/><rect x="92.8" y="663.8" fill="#060000"/><rect x="110.1" y="663.8" fill="#010000"/><rect x="127.3" y="663.8" fill="#0a0000"/><rect x="144.6" y="663.8" fill="#300000"/><rect x="161.9" y="663.8" fill="#5a0000"/><rect x="179.2" y="663.8" fill="#710000"/><rect x="196.4" y="663.8" fill="#7f0000"/><rect x="213.7" y="663.8" fill="#860000"/><rect x="231.0" y="663.8" fill="#870000"/><rect x="248.2" y="663.8" fill="#850000"/><rect x="265.5" y="663.8" fill="#810000"/><rect x="282.8" y="663.8" fill="#840000"/><rect x="300.0" y="663.8" fill="#8f0000"/><rect x="317.3" y="663.8" fill="#9a0000"/><rect x="334.6" y="663.8" fill="#a50000"/><rect x="351.8" y="663.8" fill="#a90000"/><rect x="369.1" y="663.8" fill="#a10000"/><rect x="386.4" y="663.8" fill="#970000"/><rect x="403.7" y="663.8" fill="#980000"/><rect x="420.9" y="663.8" fill="#9b0000"/><rect x="438.2" y="663.8" fill="#9d0000"/><rect x="455.5" y="663.8" fill="#9d0000"/><rect x="472.7" y="663.8" fill="#9e0000"/><rect x="490.0" y="663.8" fill="#9d0000"/><rect x="507.3" y="663.8" fill="#9d0000"/><rect x="6.5" y="681.0" fill="#4f0000"/><rect x="23.7" y="681.0" fill="#4f0000"/><rect x="41.0" y="681.0" fill="#500000"/><rect x="58.3" y="681.0" fill="#4d0000"/><rect x="75.5" y="681.0" fill="#450000"/><rect x="92.8" y="681.0" fill="#380000"/><rect x="110.1" y="681.0" fill="#210000"/><rect x="127.3" y="681.0" fill="#130000"/><rect x="144.6" y="681.0" fill="#1a0000"/><rect x="161.9" y="681.0" fill="#2c0000"/><rect x="179.2" y="681.0" fill="#480000"/><rect x="196.4" y="681.0" fill="#680000"/><rect x="213.7" y="681.0" fill="#7b0000"/><rect x="231.0" y="681.0" fill="#850000"/><rect x="248.2" y="681.0" fill="#820000"/><rect x="265.5" y="681.0" fill="#710000"/><rect x="282.8" y="681.0" fill="#710000"/><rect x="300.0" y="681.0" fill="#850000"/><rect x="317.3" y="681.0" fill="#950000"/><rect x="334.6" y="681.0" fill="#9e0000"/><rect x="351.8" y="681.0" fill="#a10000"/><rect x="369.1" y="681.0" fill="#980000"/><rect x="386.4" y="681.0" fill="#8f0000"/><rect x="403.7" y="681.0" fill="#970000"/><rect x="420.9" y="681.0" fill="#a50000"/><rect x="438.2" y="681.0" fill="#ab0000"/><rect x="455.5" y="681.0" fill="#ad0000"/><rect x="472.7" y="681.0" fill="#af0000"/><rect x="490.0" y="681.0" fill="#ae0000"/><rect x="507.3" y="681.0" fill="#ae0000"/><rect x="6.5" y="698.3" fill="#6d0000"/><rect x="23.7" y="698.3" fill="#6d0000"/><rect x="41.0" y="698.3" fill="#6d0000"/><rect x="58.3" y="698.3" fill="#6e0000"/><rect x="75.5" y="698.3" fill="#700000"/><rect x="92.8" y="698.3" fill="#670000"/><rect x="110.1" y="698.3" fill="#490000"/><rect x="127.3" y="698.3" fill="#2f0000"/><rect x="144.6" y="698.3" fill="#220000"/><rect x="161.9" y="698.3" fill="#230000"/><rect x="179.2" y="698.3" fill="#3f0000"/><rect x="196.4" y="698.3" fill="#650000"/><rect x="213.7" y="698.3" fill="#7b0000"/><rect x="231.0" y="698.3" fill="#850000"/><rect x="248.2" y="698.3" fill="#810000"/><rect x="265.5" y="698.3" fill="#700000"/><rect x="282.8" y="698.3" fill="#6f0000"/><rect x="300.0" y="698.3" fill="#810000"/><rect x="317.3" y="698.3" fill="#8f0000"/><rect x="334.6" y="698.3" fill="#940000"/><rect x="351.8" y="698.3" fill="#950000"/><rect x="369.1" y="698.3" fill="#910000"/><rect x="386.4" y="698.3" fill="#900000"/><rect x="403.7" y="698.3" fill="#9a0000"/><rect x="420.9" y="698.3" fill="#a90000"/><rect x="438.2" y="698.3" fill="#af0000"/><rect x="455.5" y="698.3" fill="#b00000"/><rect x="472.7" y="698.3" fill="#b10000"/><rect x="490.0" y="698.3" fill="#b10000"/><rect x="507.3" y="698.3" fill="#b10000"/><rect x="6.5" y="715.6" fill="#720000"/><rect x="23.7" y="715.6" fill="#720000"/><rect x="41.0" y="715.6" fill="#700000"/><rect x="58.3" y="715.6" fill="#770000"/><rect x="75.5" y="715.6" fill="#870000"/><rect x="92.8" y="715.6" fill="#8c0000"/><rect x="110.1" y="715.6" fill="#7d0000"/><rect x="127.3" y="715.6" fill="#6c0000"/><rect x="144.6" y="715.6" fill="#610000"/><rect x="161.9" y="715.6" fill="#5d0000"/><rect x="179.2" y="715.6" fill="#700000"/><rect x="196.4" y="715.6" fill="#880000"/><rect x="213.7" y="715.6" fill="#8c0000"/><rect x="231.0" y="715.6" fill="#830000"/><rect x="248.2" y="715.6" fill="#830000"/><rect x="265.5" y="715.6" fill="#880000"/><rect x="282.8" y="715.6" fill="#8a0000"/><rect x="300.0" y="715.6" fill="#880000"/><rect x="317.3" y="715.6" fill="#850000"/><rect x="334.6" y="715.6" fill="#800000"/><rect x="351.8" y="715.6" fill="#800000"/><rect x="369.1" y="715.6" fill="#900000"/><rect x="386.4" y="715.6" fill="#a10000"/><rect x="403.7" y="715.6" fill="#a40000"/><rect x="420.9" y="715.6" fill="#a20000"/><rect x="438.2" y="715.6" fill="#9f0000"/><rect x="455.5" y="715.6" fill="#9c0000"/><rect x="472.7" y="715.6" fill="#9b0000"/><rect x="490.0" y="715.6" fill="#9b0000"/><rect x="507.3" y="715.6" fill="#9b0000"/><rect x="6.5" y="732.8" fill="#750000"/><rect x="23.7" y="732.8" fill="#730000"/><rect x="41.0" y="732.8" fill="#710000"/><rect x="58.3" y="732.8" fill="#7c0000"/><rect x="75.5" y="732.8" fill="#970000"/><rect x="92.8" y="732.8" fill="#a70000"/><rect x="110.1" y="732.8" fill="#a20000"/><rect x="127.3" y="732.8" fill="#9a0000"/><rect x="144.6" y="732.8" fill="#930000"/><rect x="161.9" y="732.8" fill="#900000"/><rect x="179.2" y="732.8" fill="#990000"/><rect x="196.4" y="732.8" fill="#a50000"/><rect x="213.7" y="732.8" fill="#9c0000"/><rect x="231.0" y="732.8" fill="#8b0000"/><rect x="248.2" y="732.8" fill="#8d0000"/><rect x="265.5" y="732.8" fill="#a00000"/><rect x="282.8" y="732.8" fill="#a30000"/><rect x="300.0" y="732.8" fill="#930000"/><rect x="317.3" y="732.8" fill="#840000"/><rect x="334.6" y="732.8" fill="#760000"/><rect x="351.8" y="732.8" fill="#750000"/><rect x="369.1" y="732.8" fill="#900000"/><rect x="386.4" y="732.8" fill="#aa0000"/><rect x="403.7" y="732.8" fill="#a90000"/><rect x="420.9" y="732.8" fill="#9b0000"/><rect x="438.2" y="732.8" fill="#910000"/><rect x="455.5" y="732.8" fill="#880000"/><rect x="472.7" y="732.8" fill="#840000"/><rect x="490.0" y="732.8" fill="#850000"/><rect x="507.3" y="732.8" fill="#850000"/><rect x="6.5" y="750.1" fill="#7e0000"/><rect x="23.7" y="750.1" fill="#7d0000"/><rect x="41.0" y="750.1" fill="#7a0000"/><rect x="58.3" y="750.1" fill="#860000"/><rect x="75.5" y="750.1" fill="#a40000"/><rect x="92.8" y="750.1" fill="#b20000"/><rect x="110.1" y="750.1" fill="#a60000"/><rect x="127.3" y="750.1" fill="#980000"/><rect x="144.6" y="750.1" fill="#920000"/><rect x="161.9" y="750.1" fill="#910000"/><rect x="179.2" y="750.1" fill="#970000"/><rect x="196.4" y="750.1" fill="#a10000"/><rect x="213.7" y="750.1" fill="#a50000"/><rect x="231.0" y="750.1" fill="#a60000"/><rect x="248.2" y="750.1" fill="#aa0000"/><rect x="265.5" y="750.1" fill="#af0000"/><rect x="282.8" y="750.1" fill="#ad0000"/><rect x="300.0" y="750.1" fill="#a10000"/><rect x="317.3" y="750.1" fill="#950000"/><rect x="334.6" y="750.1" fill="#890000"/><rect x="351.8" y="750.1" fill="#840000"/><rect x="369.1" y="750.1" fill="#8f0000"/><rect x="386.4" y="750.1" fill="#9b0000"/><rect x="403.7" y="750.1" fill="#9d0000"/><rect x="420.9" y="750.1" fill="#9a0000"/><rect x="438.2" y="750.1" fill="#8f0000"/><rect x="455.5" y="750.1" fill="#800000"/><rect x="472.7" y="750.1" fill="#7a0000"/><rect x="490.0" y="750.1" fill="#7b0000"/><rect x="507.3" y="750.1" fill="#7c0000"/><rect x="6.5" y="767.4" fill="#860000"/><rect x="23.7" y="767.4" fill="#850000"/><rect x="41.0" y="767.4" fill="#830000"/><rect x="58.3" y="767.4" fill="#8d0000"/><rect x="75.5" y="767.4" fill="#a80000"/><rect x="92.8" y="767.4" fill="#b20000"/><rect x="110.1" y="767.4" fill="#a00000"/><rect x="127.3" y="767.4" fill="#8d0000"/><rect x="144.6" y="767.4" fill="#870000"/><rect x="161.9" y="767.4" fill="#860000"/><rect x="179.2" y="767.4" fill="#8b0000"/><rect x="196.4" y="767.4" fill="#960000"/><rect x="213.7" y="767.4" fill="#aa0000"/><rect x="231.0" y="767.4" fill="#c20000"/><rect x="248.2" y="767.4" fill="#c60000"/><rect x="265.5" y="767.4" fill="#b90000"/><rect x="282.8" y="767.4" fill="#b00000"/><rect x="300.0" y="767.4" fill="#ad0000"/><rect x="317.3" y="767.4" fill="#a90000"/><rect x="334.6" y="767.4" fill="#a00000"/><rect x="351.8" y="767.4" fill="#970000"/><rect x="369.1" y="767.4" fill="#8e0000"/><rect x="386.4" y="767.4" fill="#870000"/><rect x="403.7" y="767.4" fill="#8f0000"/><rect x="420.9" y="767.4" fill="#990000"/><rect x="438.2" y="767.4" fill="#8f0000"/><rect x="455.5" y="767.4" fill="#7a0000"/><rect x="472.7" y="767.4" fill="#720000"/><rect x="490.0" y="767.4" fill="#740000"/><rect x="507.3" y="767.4" fill="#750000"/><rect x="6.5" y="784.7" fill="#890000"/><rect x="23.7" y="784.7" fill="#880000"/><rect x="41.0" y="784.7" fill="#870000"/><rect x="58.3" y="784.7" fill="#8d0000"/><rect x="75.5" y="784.7" fill="#9f0000"/><rect x="92.8" y="784.7" fill="#a80000"/><rect x="110.1" y="784.7" fill="#a50000"/><rect x="127.3" y="784.7" fill="#9d0000"/><rect x="144.6" y="784.7" fill="#910000"/><rect x="161.9" y="784.7" fill="#880000"/><rect x="179.2" y="784.7" fill="#890000"/><rect x="196.4" y="784.7" fill="#930000"/><rect x="213.7" y="784.7" fill="#ac0000"/><rect x="231.0" y="784.7" fill="#cd0000"/><rect x="248.2" y="784.7" fill="#d10000"/><rect x="265.5" y="784.7" fill="#bd0000"/><rect x="282.8" y="784.7" fill="#b30000"/><rect x="300.0" y="784.7" fill="#b70000"/><rect x="317.3" y="784.7" fill="#b50000"/><rect x="334.6" y="784.7" fill="#a80000"/><rect x="351.8" y="784.7" fill="#9a0000"/><rect x="369.1" y="784.7" fill="#8a0000"/><rect x="386.4" y="784.7" fill="#800000"/><rect x="403.7" y="784.7" fill="#8b0000"/><rect x="420.9" y="784.7" fill="#9b0000"/><rect x="438.2" y="784.7" fill="#8e0000"/><rect x="455.5" y="784.7" fill="#720000"/><rect x="472.7" y="784.7" fill="#670000"/><rect x="490.0" y="784.7" fill="#690000"/><rect x="507.3" y="784.7" fill="#6a0000"/><rect x="6.5" y="801.9" fill="#870000"/><rect x="23.7" y="801.9" fill="#870000"/><rect x="41.0" y="801.9" fill="#870000"/><rect x="58.3" y="801.9" fill="#890000"/><rect x="75.5" y="801.9" fill="#8d0000"/><rect x="92.8" y="801.9" fill="#960000"/><rect x="110.1" y="801.9" fill="#a80000"/><rect x="127.3" y="801.9" fill="#b10000"/><rect x="144.6" y="801.9" fill="#a00000"/><rect x="161.9" y="801.9" fill="#8d0000"/><rect x="179.2" y="801.9" fill="#8b0000"/><rect x="196.4" y="801.9" fill="#940000"/><rect x="213.7" y="801.9" fill="#ae0000"/><rect x="231.0" y="801.9" fill="#d00000"/><rect x="248.2" y="801.9" fill="#d30000"/><rect x="265.5" y="801.9" fill="#bc0000"/><rect x="282.8" y="801.9" fill="#b30000"/><rect x="300.0" y="801.9" fill="#bc0000"/><rect x="317.3" y="801.9" fill="#bb0000"/><rect x="334.6" y="801.9" fill="#aa0000"/><rect x="351.8" y="801.9" fill="#970000"/><rect x="369.1" y="801.9" fill="#870000"/><rect x="386.4" y="801.9" fill="#7e0000"/><rect x="403.7" y="801.9" fill="#8b0000"/><rect x="420.9" y="801.9" fill="#9b0000"/><rect x="438.2" y="801.9" fill="#8b0000"/><rect x="455.5" y="801.9" fill="#6b0000"/><rect x="472.7" y="801.9" fill="#5e0000"/><rect x="490.0" y="801.9" fill="#610000"/><rect x="507.3" y="801.9" fill="#620000"/><rect x="6.5" y="819.2" fill="#810000"/><rect x="23.7" y="819.2" fill="#810000"/><rect x="41.0" y="819.2" fill="#820000"/><rect x="58.3" y="819.2" fill="#7f0000"/><rect x="75.5" y="819.2" fill="#780000"/><rect x="92.8" y="819.2" fill="#7d0000"/><rect x="110.1" y="819.2" fill="#990000"/><rect x="127.3" y="819.2" fill="#ad0000"/><rect x="144.6" y="819.2" fill="#a30000"/><rect x="161.9" y="819.2" fill="#950000"/><rect x="179.2" y="819.2" fill="#950000"/><rect x="196.4" y="819.2" fill="#9c0000"/><rect x="213.7" y="819.2" fill="#b50000"/><rect x="231.0" y="819.2" fill="#d60000"/><rect x="248.2" y="819.2" fill="#d60000"/><rect x="265.5" y="819.2" fill="#bb0000"/><rect x="282.8" y="819.2" fill="#b00000"/><rect x="300.0" y="819.2" fill="#b90000"/><rect x="317.3" y="819.2" fill="#ba0000"/><rect x="334.6" y="819.2" fill="#ab0000"/><rect x="351.8" y="819.2" fill="#9b0000"/><rect x="369.1" y="819.2" fill="#8f0000"/><rect x="386.4" y="819.2" fill="#870000"/><rect x="403.7" y="819.2" fill="#890000"/><rect x="420.9" y="819.2" fill="#8c0000"/><rect x="438.2" y="819.2" fill="#800000"/><rect x="455.5" y="819.2" fill="#6b0000"/><rect x="472.7" y="819.2" fill="#620000"/><rect x="490.0" y="819.2" fill="#640000"/><rect x="507.3" y="819.2" fill="#650000"/><rect x="6.5" y="836.5" fill="#770000"/><rect x="23.7" y="836.5" fill="#780000"/><rect x="41.0" y="836.5" fill="#790000"/><rect x="58.3" y="836.5" fill="#730000"/><rect x="75.5" y="836.5" fill="#610000"/><rect x="92.8" y="836.5" fill="#610000"/><rect x="110.1" y="836.5" fill="#810000"/><rect x="127.3" y="836.5" fill="#9d0000"/><rect x="144.6" y="836.5" fill="#a10000"/><rect x="161.9" y="836.5" fill="#a00000"/><rect x="179.2" y="836.5" fill="#a20000"/><rect x="196.4" y="836.5" fill="#a80000"/><rect x="213.7" y="836.5" fill="#bd0000"/><rect x="231.0" y="836.5" fill="#d80000"/><rect x="248.2" y="836.5" fill="#d50000"/><rect x="265.5" y="836.5" fill="#b80000"/><rect x="282.8" y="836.5" fill="#aa0000"/><rect x="300.0" y="836.5" fill="#af0000"/><rect x="317.3" y="836.5" fill="#b00000"/><rect x="334.6" y="836.5" fill="#a90000"/><rect x="351.8" y="836.5" fill="#a10000"/><rect x="369.1" y="836.5" fill="#9c0000"/><rect x="386.4" y="836.5" fill="#950000"/><rect x="403.7" y="836.5" fill="#870000"/><rect x="420.9" y="836.5" fill="#780000"/><rect x="438.2" y="836.5" fill="#710000"/><rect x="455.5" y="836.5" fill="#700000"/><rect x="472.7" y="836.5" fill="#700000"/><rect x="490.0" y="836.5" fill="#700000"/><rect x="507.3" y="836.5" fill="#700000"/><rect x="6.5" y="853.7" fill="#700000"/><rect x="23.7" y="853.7" fill="#710000"/><rect x="41.0" y="853.7" fill="#720000"/><rect x="58.3" y="853.7" fill="#6d0000"/><rect x="75.5" y="853.7" fill="#610000"/><rect x="92.8" y="853.7" fill="#640000"/><rect x="110.1" y="853.7" fill="#820000"/><rect x="127.3" y="853.7" fill="#9d0000"/><rect x="144.6" y="853.7" fill="#a60000"/><rect x="161.9" y="853.7" fill="#a90000"/><rect x="179.2" y="853.7" fill="#a70000"/><rect x="196.4" y="853.7" fill="#a40000"/><rect x="213.7" y="853.7" fill="#b20000"/><rect x="231.0" y="853.7" fill="#c70000"/><rect x="248.2" y="853.7" fill="#c60000"/><rect x="265.5" y="853.7" fill="#b40000"/><rect x="282.8" y="853.7" fill="#a80000"/><rect x="300.0" y="853.7" fill="#a10000"/><rect x="317.3" y="853.7" fill="#9f0000"/><rect x="334.6" y="853.7" fill="#a50000"/><rect x="351.8" y="853.7" fill="#a90000"/><rect x="369.1" y="853.7" fill="#a60000"/><rect x="386.4" y="853.7" fill="#9f0000"/><rect x="403.7" y="853.7" fill="#910000"/><rect x="420.9" y="853.7" fill="#830000"/><rect x="438.2" y="853.7" fill="#7c0000"/><rect x="455.5" y="853.7" fill="#7b0000"/><rect x="472.7" y="853.7" fill="#7b0000"/><rect x="490.0" y="853.7" fill="#7b0000"/><rect x="507.3" y="853.7" fill="#7b0000"/><rect x="6.5" y="871.0" fill="#6b0000"/><rect x="23.7" y="871.0" fill="#6b0000"/><rect x="41.0" y="871.0" fill="#6a0000"/><rect x="58.3" y="871.0" fill="#6d0000"/><rect x="75.5" y="871.0" fill="#730000"/><rect x="92.8" y="871.0" fill="#800000"/><rect x="110.1" y="871.0" fill="#960000"/><rect x="127.3" y="871.0" fill="#a80000"/><rect x="144.6" y="871.0" fill="#b10000"/><rect x="161.9" y="871.0" fill="#b10000"/><rect x="179.2" y="871.0" fill="#a40000"/><rect x="196.4" y="871.0" fill="#940000"/><rect x="213.7" y="871.0" fill="#970000"/><rect x="231.0" y="871.0" fill="#a40000"/><rect x="248.2" y="871.0" fill="#ac0000"/><rect x="265.5" y="871.0" fill="#b00000"/><rect x="282.8" y="871.0" fill="#a70000"/><rect x="300.0" y="871.0" fill="#8f0000"/><rect x="317.3" y="871.0" fill="#870000"/><rect x="334.6" y="871.0" fill="#9f0000"/><rect x="351.8" y="871.0" fill="#b30000"/><rect x="369.1" y="871.0" fill="#ae0000"/><rect x="386.4" y="871.0" fill="#a40000"/><rect x="403.7" y="871.0" fill="#a50000"/><rect x="420.9" y="871.0" fill="#a70000"/><rect x="438.2" y="871.0" fill="#9c0000"/><rect x="455.5" y="871.0" fill="#8b0000"/><rect x="472.7" y="871.0" fill="#850000"/><rect x="490.0" y="871.0" fill="#860000"/><rect x="507.3" y="871.0" fill="#870000"/><rect x="6.5" y="888.3" fill="#680000"/><rect x="23.7" y="888.3" fill="#660000"/><rect x="41.0" y="888.3" fill="#640000"/><rect x="58.3" y="888.3" fill="#6f0000"/><rect x="75.5" y="888.3" fill="#8b0000"/><rect x="92.8" y="888.3" fill="#9f0000"/><rect x="110.1" y="888.3" fill="#a70000"/><rect x="127.3" y="888.3" fill="#ab0000"/><rect x="144.6" y="888.3" fill="#b20000"/><rect x="161.9" y="888.3" fill="#b30000"/><rect x="179.2" y="888.3" fill="#a50000"/><rect x="196.4" y="888.3" fill="#930000"/><rect x="213.7" y="888.3" fill="#8e0000"/><rect x="231.0" y="888.3" fill="#910000"/><rect x="248.2" y="888.3" fill="#990000"/><rect x="265.5" y="888.3" fill="#a50000"/><rect x="282.8" y="888.3" fill="#a20000"/><rect x="300.0" y="888.3" fill="#8c0000"/><rect x="317.3" y="888.3" fill="#850000"/><rect x="334.6" y="888.3" fill="#9c0000"/><rect x="351.8" y="888.3" fill="#af0000"/><rect x="369.1" y="888.3" fill="#a90000"/><rect x="386.4" y="888.3" fill="#a10000"/><rect x="403.7" y="888.3" fill="#ab0000"/><rect x="420.9" y="888.3" fill="#b50000"/><rect x="438.2" y="888.3" fill="#a50000"/><rect x="455.5" y="888.3" fill="#870000"/><rect x="472.7" y="888.3" fill="#7b0000"/><rect x="490.0" y="888.3" fill="#7e0000"/><rect x="507.3" y="888.3" fill="#7f0000"/><rect x="6.5" y="905.5" fill="#660000"/><rect x="23.7" y="905.5" fill="#640000"/><rect x="41.0" y="905.5" fill="#5f0000"/><rect x="58.3" y="905.5" fill="#740000"/><rect x="75.5" y="905.5" fill="#a90000"/><rect x="92.8" y="905.5" fill="#c50000"/><rect x="110.1" y="905.5" fill="#b40000"/><rect x="127.3" y="905.5" fill="#a20000"/><rect x="144.6" y="905.5" fill="#a70000"/><rect x="161.9" y="905.5" fill="#ae0000"/><rect x="179.2" y="905.5" fill="#ab0000"/><rect x="196.4" y="905.5" fill="#a30000"/><rect x="213.7" y="905.5" fill="#9a0000"/><rect x="231.0" y="905.5" fill="#8f0000"/><rect x="248.2" y="905.5" fill="#8d0000"/><rect x="265.5" y="905.5" fill="#920000"/><rect x="282.8" y="905.5" fill="#960000"/><rect x="300.0" y="905.5" fill="#9a0000"/><rect x="317.3" y="905.5" fill="#9d0000"/><rect x="334.6" y="905.5" fill="#9c0000"/><rect x="351.8" y="905.5" fill="#9a0000"/><rect x="369.1" y="905.5" fill="#950000"/><rect x="386.4" y="905.5" fill="#930000"/><rect x="403.7" y="905.5" fill="#9f0000"/><rect x="420.9" y="905.5" fill="#aa0000"/><rect x="438.2" y="905.5" fill="#930000"/><rect x="455.5" y="905.5" fill="#690000"/><rect x="472.7" y="905.5" fill="#590000"/><rect x="490.0" y="905.5" fill="#5c0000"/><rect x="507.3" y="905.5" fill="#5e0000"/><rect x="6.5" y="922.8" fill="#5e0000"/><rect x="23.7" y="922.8" fill="#5b0000"/><rect x="41.0" y="922.8" fill="#550000"/><rect x="58.3" y="922.8" fill="#710000"/><rect x="75.5" y="922.8" fill="#b80000"/><rect x="92.8" y="922.8" fill="#dd0000"/><rect x="110.1" y="922.8" fill="#c30000"/><rect x="127.3" y="922.8" fill="#a80000"/><rect x="144.6" y="922.8" fill="#a70000"/><rect x="161.9" y="922.8" fill="#ac0000"/><rect x="179.2" y="922.8" fill="#ae0000"/><rect x="196.4" y="922.8" fill="#ae0000"/><rect x="213.7" y="922.8" fill="#a40000"/><rect x="231.0" y="922.8" fill="#940000"/><rect x="248.2" y="922.8" fill="#8d0000"/><rect x="265.5" y="922.8" fill="#8d0000"/><rect x="282.8" y="922.8" fill="#940000"/><rect x="300.0" y="922.8" fill="#a60000"/><rect x="317.3" y="922.8" fill="#ac0000"/><rect x="334.6" y="922.8" fill="#9a0000"/><rect x="351.8" y="922.8" fill="#8b0000"/><rect x="369.1" y="922.8" fill="#8b0000"/><rect x="386.4" y="922.8" fill="#8f0000"/><rect x="403.7" y="922.8" fill="#940000"/><rect x="420.9" y="922.8" fill="#960000"/><rect x="438.2" y="922.8" fill="#7e0000"/><rect x="455.5" y="922.8" fill="#590000"/><rect x="472.7" y="922.8" fill="#4b0000"/><rect x="490.0" y="922.8" fill="#4e0000"/><rect x="507.3" y="922.8" fill="#4f0000"/><rect x="6.5" y="940.1" fill="#470000"/><rect x="23.7" y="940.1" fill="#430000"/><rect x="41.0" y="940.1" fill="#3d0000"/><rect x="58.3" y="940.1" fill="#5d0000"/><rect x="75.5" y="940.1" fill="#ad0000"/><rect x="92.8" y="940.1" fill="#df0000"/><rect x="110.1" y="940.1" fill="#d90000"/><rect x="127.3" y="940.1" fill="#c90000"/><rect x="144.6" y="940.1" fill="#bd0000"/><rect x="161.9" y="940.1" fill="#b20000"/><rect x="179.2" y="940.1" fill="#af0000"/><rect x="196.4" y="940.1" fill="#ae0000"/><rect x="213.7" y="940.1" fill="#a80000"/><rect x="231.0" y="940.1" fill="#9e0000"/><rect x="248.2" y="940.1" fill="#9d0000"/><rect x="265.5" y="940.1" fill="#a20000"/><rect x="282.8" y="940.1" fill="#a60000"/><rect x="300.0" y="940.1" fill="#aa0000"/><rect x="317.3" y="940.1" fill="#a60000"/><rect x="334.6" y="940.1" fill="#940000"/><rect x="351.8" y="940.1" fill="#880000"/><rect x="369.1" y="940.1" fill="#950000"/><rect x="386.4" y="940.1" fill="#a00000"/><rect x="403.7" y="940.1" fill="#8e0000"/><rect x="420.9" y="940.1" fill="#740000"/><rect x="438.2" y="940.1" fill="#670000"/><rect x="455.5" y="940.1" fill="#630000"/><rect x="472.7" y="940.1" fill="#610000"/><rect x="490.0" y="940.1" fill="#620000"/><rect x="507.3" y="940.1" fill="#620000"/><rect x="6.5" y="957.3" fill="#3d0000"/><rect x="23.7" y="957.3" fill="#390000"/><rect x="41.0" y="957.3" fill="#330000"/><rect x="58.3" y="957.3" fill="#520000"/><rect x="75.5" y="957.3" fill="#a10000"/><rect x="92.8" y="957.3" fill="#d80000"/><rect x="110.1" y="957.3" fill="#e70000"/><rect x="127.3" y="957.3" fill="#e30000"/><rect x="144.6" y="957.3" fill="#cd0000"/><rect x="161.9" y="957.3" fill="#b40000"/><rect x="179.2" y="957.3" fill="#ac0000"/><rect x="196.4" y="957.3" fill="#ac0000"/><rect x="213.7" y="957.3" fill="#ab0000"/><rect x="231.0" y="957.3" fill="#ac0000"/><rect x="248.2" y="957.3" fill="#af0000"/><rect x="265.5" y="957.3" fill="#b30000"/><rect x="282.8" y="957.3" fill="#b20000"/><rect x="300.0" y="957.3" fill="#ab0000"/><rect x="317.3" y="957.3" fill="#a10000"/><rect x="334.6" y="957.3" fill="#8f0000"/><rect x="351.8" y="957.3" fill="#870000"/><rect x="369.1" y="957.3" fill="#9c0000"/><rect x="386.4" y="957.3" fill="#ac0000"/><rect x="403.7" y="957.3" fill="#8c0000"/><rect x="420.9" y="957.3" fill="#5f0000"/><rect x="438.2" y="957.3" fill="#5c0000"/><rect x="455.5" y="957.3" fill="#700000"/><rect x="472.7" y="957.3" fill="#770000"/><rect x="490.0" y="957.3" fill="#750000"/><rect x="507.3" y="957.3" fill="#750000"/><rect x="6.5" y="974.6" fill="#570000"/><rect x="23.7" y="974.6" fill="#540000"/><rect x="41.0" y="974.6" fill="#4f0000"/><rect x="58.3" y="974.6" fill="#660000"/><rect x="75.5" y="974.6" fill="#9f0000"/><rect x="92.8" y="974.6" fill="#cb0000"/><rect x="110.1" y="974.6" fill="#e10000"/><rect x="127.3" y="974.6" fill="#e30000"/><rect x="144.6" y="974.6" fill="#c50000"/><rect x="161.9" y="974.6" fill="#a40000"/><rect x="179.2" y="974.6" fill="#9e0000"/><rect x="196.4" y="974.6" fill="#a50000"/><rect x="213.7" y="974.6" fill="#b10000"/><rect x="231.0" y="974.6" fill="#c10000"/><rect x="248.2" y="974.6" fill="#bf0000"/><rect x="265.5" y="974.6" fill="#af0000"/><rect x="282.8" y="974.6" fill="#a70000"/><rect x="300.0" y="974.6" fill="#ab0000"/><rect x="317.3" y="974.6" fill="#a70000"/><rect x="334.6" y="974.6" fill="#910000"/><rect x="351.8" y="974.6" fill="#850000"/><rect x="369.1" y="974.6" fill="#970000"/><rect x="386.4" y="974.6" fill="#a70000"/><rect x="403.7" y="974.6" fill="#910000"/><rect x="420.9" y="974.6" fill="#700000"/><rect x="438.2" y="974.6" fill="#6c0000"/><rect x="455.5" y="974.6" fill="#770000"/><rect x="472.7" y="974.6" fill="#7b0000"/><rect x="490.0" y="974.6" fill="#7a0000"/><rect x="507.3" y="974.6" fill="#7a0000"/><rect x="6.5" y="991.9" fill="#730000"/><rect x="23.7" y="991.9" fill="#710000"/><rect x="41.0" y="991.9" fill="#6e0000"/><rect x="58.3" y="991.9" fill="#7c0000"/><rect x="75.5" y="991.9" fill="#9d0000"/><rect x="92.8" y="991.9" fill="#ba0000"/><rect x="110.1" y="991.9" fill="#d20000"/><rect x="127.3" y="991.9" fill="#d80000"/><rect x="144.6" y="991.9" fill="#ba0000"/><rect x="161.9" y="991.9" fill="#9a0000"/><rect x="179.2" y="991.9" fill="#960000"/><rect x="196.4" y="991.9" fill="#a10000"/><rect x="213.7" y="991.9" fill="#b50000"/><rect x="231.0" y="991.9" fill="#ce0000"/><rect x="248.2" y="991.9" fill="#c70000"/><rect x="265.5" y="991.9" fill="#a60000"/><rect x="282.8" y="991.9" fill="#990000"/><rect x="300.0" y="991.9" fill="#a70000"/><rect x="317.3" y="991.9" fill="#aa0000"/><rect x="334.6" y="991.9" fill="#950000"/><rect x="351.8" y="991.9" fill="#860000"/><rect x="369.1" y="991.9" fill="#8f0000"/><rect x="386.4" y="991.9" fill="#9a0000"/><rect x="403.7" y="991.9" fill="#940000"/><rect x="420.9" y="991.9" fill="#880000"/><rect x="438.2" y="991.9" fill="#7f0000"/><rect x="455.5" y="991.9" fill="#770000"/><rect x="472.7" y="991.9" fill="#740000"/><rect x="490.0" y="991.9" fill="#750000"/><rect x="507.3" y="991.9" fill="#750000"/><rect x="6.5" y="1009.2" fill="#700000"/><rect x="23.7" y="1009.2" fill="#6f0000"/><rect x="41.0" y="1009.2" fill="#6c0000"/><rect x="58.3" y="1009.2" fill="#770000"/><rect x="75.5" y="1009.2" fill="#930000"/><rect x="92.8" y="1009.2" fill="#ab0000"/><rect x="110.1" y="1009.2" fill="#bd0000"/><rect x="127.3" y="1009.2" fill="#c50000"/><rect x="144.6" y="1009.2" fill="#bd0000"/><rect x="161.9" y="1009.2" fill="#b20000"/><rect x="179.2" y="1009.2" fill="#aa0000"/><rect x="196.4" y="1009.2" fill="#a60000"/><rect x="213.7" y="1009.2" fill="#ad0000"/><rect x="231.0" y="1009.2" fill="#ba0000"/><rect x="248.2" y="1009.2" fill="#b40000"/><rect x="265.5" y="1009.2" fill="#9f0000"/><rect x="282.8" y="1009.2" fill="#960000"/><rect x="300.0" y="1009.2" fill="#9b0000"/><rect x="317.3" y="1009.2" fill="#9c0000"/><rect x="334.6" y="1009.2" fill="#960000"/><rect x="351.8" y="1009.2" fill="#8f0000"/><rect x="369.1" y="1009.2" fill="#880000"/><rect x="386.4" y="1009.2" fill="#840000"/><rect x="403.7" y="1009.2" fill="#880000"/><rect x="420.9" y="1009.2" fill="#8c0000"/><rect x="438.2" y="1009.2" fill="#7d0000"/><rect x="455.5" y="1009.2" fill="#630000"/><rect x="472.7" y="1009.2" fill="#590000"/><rect x="490.0" y="1009.2" fill="#5b0000"/><rect x="507.3" y="1009.2" fill="#5d0000"/><rect x="6.5" y="1026.4" fill="#670000"/><rect x="23.7" y="1026.4" fill="#660000"/><rect x="41.0" y="1026.4" fill="#630000"/><rect x="58.3" y="1026.4" fill="#6e0000"/><rect x="75.5" y="1026.4" fill="#890000"/><rect x="92.8" y="1026.4" fill="#9e0000"/><rect x="110.1" y="1026.4" fill="#a70000"/><rect x="127.3" y="1026.4" fill="#b00000"/><rect x="144.6" y="1026.4" fill="#c50000"/><rect x="161.9" y="1026.4" fill="#d30000"/><rect x="179.2" y="1026.4" fill="#c60000"/><rect x="196.4" y="1026.4" fill="#af0000"/><rect x="213.7" y="1026.4" fill="#a30000"/><rect x="231.0" y="1026.4" fill="#9e0000"/><rect x="248.2" y="1026.4" fill="#9a0000"/><rect x="265.5" y="1026.4" fill="#9a0000"/><rect x="282.8" y="1026.4" fill="#960000"/><rect x="300.0" y="1026.4" fill="#8d0000"/><rect x="317.3" y="1026.4" fill="#8a0000"/><rect x="334.6" y="1026.4" fill="#950000"/><rect x="351.8" y="1026.4" fill="#980000"/><rect x="369.1" y="1026.4" fill="#820000"/><rect x="386.4" y="1026.4" fill="#6c0000"/><rect x="403.7" y="1026.4" fill="#780000"/><rect x="420.9" y="1026.4" fill="#880000"/><rect x="438.2" y="1026.4" fill="#730000"/><rect x="455.5" y="1026.4" fill="#4b0000"/><rect x="472.7" y="1026.4" fill="#3b0000"/><rect x="490.0" y="1026.4" fill="#3e0000"/><rect x="507.3" y="1026.4" fill="#400000"/><rect x="6.5" y="1043.7" fill="#7d0000"/><rect x="23.7" y="1043.7" fill="#7c0000"/><rect x="41.0" y="1043.7" fill="#7b0000"/><rect x="58.3" y="1043.7" fill="#800000"/><rect x="75.5" y="1043.7" fill="#8d0000"/><rect x="92.8" y="1043.7" fill="#990000"/><rect x="110.1" y="1043.7" fill="#a10000"/><rect x="127.3" y="1043.7" fill="#ac0000"/><rect x="144.6" y="1043.7" fill="#c60000"/><rect x="161.9" y="1043.7" fill="#da0000"/><rect x="179.2" y="1043.7" fill="#cb0000"/><rect x="196.4" y="1043.7" fill="#b00000"/><rect x="213.7" y="1043.7" fill="#a50000"/><rect x="231.0" y="1043.7" fill="#a20000"/><rect x="248.2" y="1043.7" fill="#9e0000"/><rect x="265.5" y="1043.7" fill="#9c0000"/><rect x="282.8" y="1043.7" fill="#950000"/><rect x="300.0" y="1043.7" fill="#890000"/><rect x="317.3" y="1043.7" fill="#840000"/><rect x="334.6" y="1043.7" fill="#8e0000"/><rect x="351.8" y="1043.7" fill="#920000"/><rect x="369.1" y="1043.7" fill="#7d0000"/><rect x="386.4" y="1043.7" fill="#690000"/><rect x="403.7" y="1043.7" fill="#730000"/><rect x="420.9" y="1043.7" fill="#820000"/><rect x="438.2" y="1043.7" fill="#6e0000"/><rect x="455.5" y="1043.7" fill="#480000"/><rect x="472.7" y="1043.7" fill="#390000"/><rect x="490.0" y="1043.7" fill="#3c0000"/><rect x="507.3" y="1043.7" fill="#3e0000"/><rect x="6.5" y="1061.0" fill="#a20000"/><rect x="23.7" y="1061.0" fill="#a20000"/><rect x="41.0" y="1061.0" fill="#a20000"/><rect x="58.3" y="1061.0" fill="#a00000"/><rect x="75.5" y="1061.0" fill="#9a0000"/><rect x="92.8" y="1061.0" fill="#9a0000"/><rect x="110.1" y="1061.0" fill="#a40000"/><rect x="127.3" y="1061.0" fill="#b20000"/><rect x="144.6" y="1061.0" fill="#c60000"/><rect x="161.9" y="1061.0" fill="#d20000"/><rect x="179.2" y="1061.0" fill="#c40000"/><rect x="196.4" y="1061.0" fill="#ae0000"/><rect x="213.7" y="1061.0" fill="#ae0000"/><rect x="231.0" y="1061.0" fill="#b70000"/><rect x="248.2" y="1061.0" fill="#b20000"/><rect x="265.5" y="1061.0" fill="#a20000"/><rect x="282.8" y="1061.0" fill="#940000"/><rect x="300.0" y="1061.0" fill="#8b0000"/><rect x="317.3" y="1061.0" fill="#850000"/><rect x="334.6" y="1061.0" fill="#850000"/><rect x="351.8" y="1061.0" fill="#830000"/><rect x="369.1" y="1061.0" fill="#7a0000"/><rect x="386.4" y="1061.0" fill="#720000"/><rect x="403.7" y="1061.0" fill="#750000"/><rect x="420.9" y="1061.0" fill="#780000"/><rect x="438.2" y="1061.0" fill="#6a0000"/><rect x="455.5" y="1061.0" fill="#520000"/><rect x="472.7" y="1061.0" fill="#480000"/><rect x="490.0" y="1061.0" fill="#4a0000"/><rect x="507.3" y="1061.0" fill="#4c0000"/><rect x="6.5" y="1078.2" fill="#b00000"/><rect x="23.7" y="1078.2" fill="#b10000"/><rect x="41.0" y="1078.2" fill="#b20000"/><rect x="58.3" y="1078.2" fill="#ad0000"/><rect x="75.5" y="1078.2" fill="#9e0000"/><rect x="92.8" y="1078.2" fill="#9a0000"/><rect x="110.1" y="1078.2" fill="#a60000"/><rect x="127.3" y="1078.2" fill="#b50000"/><rect x="144.6" y="1078.2" fill="#c60000"/><rect x="161.9" y="1078.2" fill="#d00000"/><rect x="179.2" y="1078.2" fill="#c20000"/><rect x="196.4" y="1078.2" fill="#ad0000"/><rect x="213.7" y="1078.2" fill="#b10000"/><rect x="231.0" y="1078.2" fill="#c00000"/><rect x="248.2" y="1078.2" fill="#ba0000"/><rect x="265.5" y="1078.2" fill="#a40000"/><rect x="282.8" y="1078.2" fill="#940000"/><rect x="300.0" y="1078.2" fill="#8b0000"/><rect x="317.3" y="1078.2" fill="#850000"/><rect x="334.6" y="1078.2" fill="#810000"/><rect x="351.8" y="1078.2" fill="#7d0000"/><rect x="369.1" y="1078.2" fill="#790000"/><rect x="386.4" y="1078.2" fill="#750000"/><rect x="403.7" y="1078.2" fill="#750000"/><rect x="420.9" y="1078.2" fill="#740000"/><rect x="438.2" y="1078.2" fill="#680000"/><rect x="455.5" y="1078.2" fill="#550000"/><rect x="472.7" y="1078.2" fill="#4e0000"/><rect x="490.0" y="1078.2" fill="#4f0000"/><rect x="507.3" y="1078.2" fill="#500000"/><rect x="6.5" y="1095.5" fill="#ad0000"/><rect x="23.7" y="1095.5" fill="#ae0000"/><rect x="41.0" y="1095.5" fill="#af0000"/><rect x="58.3" y="1095.5" fill="#aa0000"/><rect x="75.5" y="1095.5" fill="#9d0000"/><rect x="92.8" y="1095.5" fill="#9a0000"/><rect x="110.1" y="1095.5" fill="#a50000"/><rect x="127.3" y="1095.5" fill="#b40000"/><rect x="144.6" y="1095.5" fill="#c60000"/><rect x="161.9" y="1095.5" fill="#d00000"/><rect x="179.2" y="1095.5" fill="#c20000"/><rect x="196.4" y="1095.5" fill="#ae0000"/><rect x="213.7" y="1095.5" fill="#b00000"/><rect x="231.0" y="1095.5" fill="#be0000"/><rect x="248.2" y="1095.5" fill="#b80000"/><rect x="265.5" y="1095.5" fill="#a30000"/><rect x="282.8" y="1095.5" fill="#940000"/><rect x="300.0" y="1095.5" fill="#8b0000"/><rect x="317.3" y="1095.5" fill="#850000"/><rect x="334.6" y="1095.5" fill="#810000"/><rect x="351.8" y="1095.5" fill="#7e0000"/><rect x="369.1" y="1095.5" fill="#790000"/><rect x="386.4" y="1095.5" fill="#750000"/><rect x="403.7" y="1095.5" fill="#750000"/><rect x="420.9" y="1095.5" fill="#750000"/><rect x="438.2" y="1095.5" fill="#680000"/><rect x="455.5" y="1095.5" fill="#550000"/><rect x="472.7" y="1095.5" fill="#4d0000"/><rect x="490.0" y="1095.5" fill="#4f0000"/><rect x="507.3" y="1095.5" fill="#500000"/><rect x="6.5" y="1112.8" fill="#ab0000"/><rect x="23.7" y="1112.8" fill="#ac0000"/><rect x="41.0" y="1112.8" fill="#ad0000"/><rect x="58.3" y="1112.8" fill="#a80000"/><rect x="75.5" y="1112.8" fill="#9d0000"/><rect x="92.8" y="1112.8" fill="#9a0000"/><rect x="110.1" y="1112.8" fill="#a50000"/><rect x="127.3" y="1112.8" fill="#b40000"/><rect x="144.6" y="1112.8" fill="#c60000"/><rect x="161.9" y="1112.8" fill="#d10000"/><rect x="179.2" y="1112.8" fill="#c30000"/><rect x="196.4" y="1112.8" fill="#ae0000"/><rect x="213.7" y="1112.8" fill="#b00000"/><rect x="231.0" y="1112.8" fill="#bd0000"/><rect x="248.2" y="1112.8" fill="#b80000"/><rect x="265.5" y="1112.8" fill="#a30000"/><rect x="282.8" y="1112.8" fill="#940000"/><rect x="300.0" y="1112.8" fill="#8b0000"/><rect x="317.3" y="1112.8" fill="#850000"/><rect x="334.6" y="1112.8" fill="#820000"/><rect x="351.8" y="1112.8" fill="#7f0000"/><rect x="369.1" y="1112.8" fill="#790000"/><rect x="386.4" y="1112.8" fill="#740000"/><rect x="403.7" y="1112.8" fill="#750000"/><rect x="420.9" y="1112.8" fill="#760000"/><rect x="438.2" y="1112.8" fill="#690000"/><rect x="455.5" y="1112.8" fill="#540000"/><rect x="472.7" y="1112.8" fill="#4c0000"/><rect x="490.0" y="1112.8" fill="#4e0000"/><rect x="507.3" y="1112.8" fill="#4f0000"/><rect x="11" y="616.5" width="509" height="509" fill="url(#rd)" style="width:509px;height:509px;mix-blend-mode:lighten"/></g></g>
<g clip-path="url(#clipf)"><g filter="url(#ff)"><rect x="1035" y="626.5" width="489" height="489" fill="url(#rf)"/></g></g>
<g clip-path="url(#clipe)"><rect x="548" y="646.5" width="449" height="449" fill="#070b1b"/><rect x="548" y="646.5" width="449" height="449" filter="url(#grainb)" opacity="0.5"/><g filter="url(#bl6)" opacity="0.4"><rect x="548" y="850.5" width="449" height="40" fill="#262c66"/><rect x="756" y="646.5" width="32" height="449" fill="#262c66"/></g><ellipse cx="772" cy="870.5" rx="110" ry="22" fill="#3c4a9a" opacity="0.55" filter="url(#bl6)"/><ellipse cx="772" cy="870.5" rx="20" ry="90" fill="#3c4a9a" opacity="0.5" filter="url(#bl6)"/><rect x="548" y="855.8" width="449" height="1.4" fill="#3a4488" opacity="0.7"/><rect x="548" y="860.8" width="449" height="1.4" fill="#3a4488" opacity="0.7"/><rect x="548" y="878.8" width="449" height="1.4" fill="#3a4488" opacity="0.7"/><rect x="548" y="883.8" width="449" height="1.4" fill="#3a4488" opacity="0.7"/><rect x="759.3" y="646.5" width="1.4" height="449" fill="#3a4488" opacity="0.7"/><rect x="783.3" y="646.5" width="1.4" height="449" fill="#3a4488" opacity="0.7"/><rect x="548" y="868.5" width="449" height="4" fill="url(#ehg)"/><rect x="769.5" y="646.5" width="5" height="449" fill="url(#evg)"/><circle cx="772" cy="870.5" r="44" fill="#6a8fd0" opacity="0.8" filter="url(#bl6)"/><circle cx="772" cy="870.5" r="31" fill="#dff6f6"/><circle cx="772" cy="870.5" r="27" fill="#f2fdfc"/><g fill="#1a2050"><rect x="754.7" y="853.7" width="2" height="2"/><rect x="779.6" y="844.4" width="2" height="2"/><rect x="770.3" y="843.7" width="2" height="2"/><rect x="790.8" y="874.0" width="2" height="2"/><rect x="793.1" y="862.6" width="2" height="2"/><rect x="779.7" y="865.0" width="2" height="2"/><rect x="758.4" y="873.2" width="2" height="2"/><rect x="751.6" y="864.7" width="2" height="2"/><rect x="785.0" y="871.6" width="2" height="2"/><rect x="767.1" y="896.8" width="2" height="2"/><rect x="773.1" y="859.4" width="2" height="2"/><rect x="775.0" y="860.5" width="2" height="2"/><rect x="764.6" y="863.8" width="2" height="2"/><rect x="798.1" y="870.8" width="2" height="2"/><rect x="775.3" y="883.1" width="2" height="2"/><rect x="798.0" y="867.6" width="2" height="2"/><rect x="765.3" y="897.1" width="2" height="2"/><rect x="749.6" y="864.9" width="2" height="2"/><rect x="779.6" y="896.6" width="2" height="2"/><rect x="762.0" y="844.9" width="2" height="2"/><rect x="784.0" y="861.0" width="2" height="2"/><rect x="764.7" y="879.2" width="2" height="2"/><rect x="776.4" y="876.2" width="2" height="2"/><rect x="765.1" y="891.1" width="2" height="2"/><rect x="795.0" y="871.0" width="2" height="2"/><rect x="763.8" y="883.8" width="2" height="2"/><rect x="780.1" y="852.9" width="2" height="2"/><rect x="764.2" y="888.3" width="2" height="2"/><rect x="770.1" y="864.1" width="2" height="2"/><rect x="776.2" y="869.8" width="2" height="2"/><rect x="772.0" y="844.8" width="2" height="2"/><rect x="796.7" y="873.3" width="2" height="2"/><rect x="757.8" y="886.4" width="2" height="2"/><rect x="778.0" y="870.8" width="2" height="2"/><rect x="783.5" y="895.3" width="2" height="2"/><rect x="780.0" y="893.5" width="2" height="2"/><rect x="796.6" y="858.9" width="2" height="2"/><rect x="762.7" y="884.3" width="2" height="2"/><rect x="747.6" y="866.7" width="2" height="2"/><rect x="790.9" y="885.7" width="2" height="2"/></g><circle cx="641.1" cy="759.0" r="25" fill="none" stroke="#1c2150" stroke-width="7" opacity="0.45" filter="url(#bl1)"/><circle cx="641.1" cy="759.0" r="3" fill="#5a78c0" opacity="0.6" filter="url(#bl1)"/><rect x="639.9" y="757.8" width="2.6" height="2.6" fill="#e0f6f6"/><line x1="651.3" y1="735.6" x2="659.5" y2="741.4" stroke="#6a8ad0" stroke-width="2.2" opacity="0.8"/><line x1="630.9" y1="782.3" x2="622.7" y2="776.6" stroke="#6a8ad0" stroke-width="2.2" opacity="0.8"/><circle cx="802.1" cy="700.8" r="25" fill="none" stroke="#1c2150" stroke-width="7" opacity="0.45" filter="url(#bl1)"/><circle cx="802.1" cy="700.8" r="3" fill="#5a78c0" opacity="0.6" filter="url(#bl1)"/><rect x="800.9" y="699.6" width="2.6" height="2.6" fill="#e0f6f6"/><line x1="812.3" y1="677.5" x2="820.5" y2="683.2" stroke="#6a8ad0" stroke-width="2.2" opacity="0.8"/><line x1="791.8" y1="724.2" x2="783.6" y2="718.4" stroke="#6a8ad0" stroke-width="2.2" opacity="0.8"/><circle cx="934.0" cy="811.4" r="25" fill="none" stroke="#1c2150" stroke-width="7" opacity="0.45" filter="url(#bl1)"/><circle cx="934.0" cy="811.4" r="3" fill="#5a78c0" opacity="0.6" filter="url(#bl1)"/><rect x="932.8" y="810.2" width="2.6" height="2.6" fill="#e0f6f6"/><line x1="944.2" y1="788.0" x2="952.4" y2="793.7" stroke="#6a8ad0" stroke-width="2.2" opacity="0.8"/><line x1="923.7" y1="834.7" x2="915.5" y2="829.0" stroke="#6a8ad0" stroke-width="2.2" opacity="0.8"/><circle cx="710.9" cy="809.4" r="25" fill="none" stroke="#1c2150" stroke-width="7" opacity="0.45" filter="url(#bl1)"/><circle cx="710.9" cy="809.4" r="3" fill="#5a78c0" opacity="0.6" filter="url(#bl1)"/><rect x="709.7" y="808.2" width="2.6" height="2.6" fill="#e0f6f6"/><line x1="721.2" y1="786.1" x2="729.4" y2="791.8" stroke="#6a8ad0" stroke-width="2.2" opacity="0.8"/><line x1="700.7" y1="832.8" x2="692.5" y2="827.0" stroke="#6a8ad0" stroke-width="2.2" opacity="0.8"/><circle cx="610.1" cy="931.6" r="25" fill="none" stroke="#1c2150" stroke-width="7" opacity="0.45" filter="url(#bl1)"/><circle cx="610.1" cy="931.6" r="3" fill="#5a78c0" opacity="0.6" filter="url(#bl1)"/><rect x="608.9" y="930.4" width="2.6" height="2.6" fill="#e0f6f6"/><line x1="620.3" y1="908.3" x2="628.5" y2="914.0" stroke="#6a8ad0" stroke-width="2.2" opacity="0.8"/><line x1="599.8" y1="955.0" x2="591.6" y2="949.2" stroke="#6a8ad0" stroke-width="2.2" opacity="0.8"/><circle cx="835.0" cy="935.5" r="25" fill="none" stroke="#1c2150" stroke-width="7" opacity="0.45" filter="url(#bl1)"/><circle cx="835.0" cy="935.5" r="3" fill="#5a78c0" opacity="0.6" filter="url(#bl1)"/><rect x="833.8" y="934.3" width="2.6" height="2.6" fill="#e0f6f6"/><line x1="845.3" y1="912.1" x2="853.5" y2="917.9" stroke="#6a8ad0" stroke-width="2.2" opacity="0.8"/><line x1="824.8" y1="958.8" x2="816.6" y2="953.1" stroke="#6a8ad0" stroke-width="2.2" opacity="0.8"/><circle cx="904.9" cy="982.0" r="25" fill="none" stroke="#1c2150" stroke-width="7" opacity="0.45" filter="url(#bl1)"/><circle cx="904.9" cy="982.0" r="3" fill="#5a78c0" opacity="0.6" filter="url(#bl1)"/><rect x="903.7" y="980.8" width="2.6" height="2.6" fill="#e0f6f6"/><line x1="915.1" y1="958.7" x2="923.3" y2="964.4" stroke="#6a8ad0" stroke-width="2.2" opacity="0.8"/><line x1="894.6" y1="1005.4" x2="886.4" y2="999.6" stroke="#6a8ad0" stroke-width="2.2" opacity="0.8"/><circle cx="740.0" cy="1042.2" r="25" fill="none" stroke="#1c2150" stroke-width="7" opacity="0.45" filter="url(#bl1)"/><circle cx="740.0" cy="1042.2" r="3" fill="#5a78c0" opacity="0.6" filter="url(#bl1)"/><rect x="738.8" y="1041.0" width="2.6" height="2.6" fill="#e0f6f6"/><line x1="750.3" y1="1018.8" x2="758.4" y2="1024.5" stroke="#6a8ad0" stroke-width="2.2" opacity="0.8"/><line x1="729.8" y1="1065.5" x2="721.6" y2="1059.8" stroke="#6a8ad0" stroke-width="2.2" opacity="0.8"/></g>
<g clip-path="url(#clipg)"><rect x="1562" y="646.5" width="449" height="449" fill="#0b0f27"/><rect x="1562" y="646.5" width="449" height="449" filter="url(#grainb)" opacity="0.7"/><ellipse cx="1787" cy="871" rx="48" ry="46" fill="#34428a" opacity="0.55" filter="url(#bl6)"/><rect x="1729" y="854.2" width="116" height="1.6" fill="#4a58a8" opacity="0.35" filter="url(#bl1)"/><rect x="1729" y="864.2" width="116" height="1.6" fill="#4a58a8" opacity="0.35" filter="url(#bl1)"/><rect x="1729" y="878.2" width="116" height="1.6" fill="#4a58a8" opacity="0.35" filter="url(#bl1)"/><rect x="1729" y="888.2" width="116" height="1.6" fill="#4a58a8" opacity="0.35" filter="url(#bl1)"/><ellipse cx="1787" cy="871" rx="30" ry="30.5" fill="#222c6c"/><ellipse cx="1787" cy="871" rx="30" ry="30.5" fill="#222c6c" filter="url(#grainb)" opacity="0.8"/><ellipse cx="1787" cy="871" rx="30" ry="30.5" fill="none" stroke="#7fb0dc" stroke-width="5" filter="url(#bl1)"/><rect x="1759.9" y="877.9" width="2.4" height="2.4" fill="#ffffff"/><rect x="1758.2" y="878.5" width="2.4" height="2.4" fill="#c8f0f0"/><rect x="1797.0" y="896.0" width="2.4" height="2.4" fill="#c8f0f0"/><rect x="1810.6" y="886.7" width="2.4" height="2.4" fill="#a0d8e8"/><rect x="1802.9" y="891.3" width="2.4" height="2.4" fill="#e8fbfa"/><rect x="1761.6" y="853.0" width="2.4" height="2.4" fill="#ffffff"/><rect x="1814.0" y="863.3" width="2.4" height="2.4" fill="#c8f0f0"/><rect x="1765.4" y="849.6" width="2.4" height="2.4" fill="#e8fbfa"/><rect x="1814.1" y="881.1" width="2.4" height="2.4" fill="#e8fbfa"/><rect x="1791.2" y="838.8" width="2.4" height="2.4" fill="#a0d8e8"/><rect x="1757.0" y="881.3" width="2.4" height="2.4" fill="#a0d8e8"/><rect x="1757.2" y="869.8" width="2.4" height="2.4" fill="#e8fbfa"/><rect x="1757.7" y="877.7" width="2.4" height="2.4" fill="#e8fbfa"/><rect x="1776.7" y="835.8" width="2.4" height="2.4" fill="#a0d8e8"/><rect x="1787.3" y="839.7" width="2.4" height="2.4" fill="#e8fbfa"/><rect x="1761.5" y="887.6" width="2.4" height="2.4" fill="#a0d8e8"/><rect x="1761.2" y="891.4" width="2.4" height="2.4" fill="#e8fbfa"/><rect x="1792.5" y="898.8" width="2.4" height="2.4" fill="#e8fbfa"/><rect x="1755.0" y="875.8" width="2.4" height="2.4" fill="#e8fbfa"/><rect x="1758.5" y="857.5" width="2.4" height="2.4" fill="#c8f0f0"/><rect x="1791.1" y="839.9" width="2.4" height="2.4" fill="#a0d8e8"/><rect x="1816.2" y="872.8" width="2.4" height="2.4" fill="#ffffff"/><rect x="1787.4" y="838.6" width="2.4" height="2.4" fill="#e8fbfa"/><rect x="1816.4" y="871.9" width="2.4" height="2.4" fill="#ffffff"/><rect x="1794.8" y="839.9" width="2.4" height="2.4" fill="#ffffff"/><rect x="1754.3" y="868.0" width="2.4" height="2.4" fill="#c8f0f0"/><rect x="1760.5" y="884.1" width="2.4" height="2.4" fill="#c8f0f0"/><rect x="1816.7" y="869.9" width="2.4" height="2.4" fill="#a0d8e8"/><rect x="1816.7" y="869.4" width="2.4" height="2.4" fill="#e8fbfa"/><rect x="1814.9" y="877.8" width="2.4" height="2.4" fill="#c8f0f0"/><rect x="1792.6" y="899.4" width="2.4" height="2.4" fill="#a0d8e8"/><rect x="1801.4" y="841.0" width="2.4" height="2.4" fill="#ffffff"/><rect x="1814.0" y="884.1" width="2.4" height="2.4" fill="#c8f0f0"/><rect x="1816.6" y="872.9" width="2.4" height="2.4" fill="#a0d8e8"/><rect x="1767.3" y="889.4" width="2.4" height="2.4" fill="#ffffff"/><rect x="1801.1" y="842.4" width="2.4" height="2.4" fill="#c8f0f0"/><rect x="1806.1" y="846.9" width="2.4" height="2.4" fill="#c8f0f0"/><rect x="1798.5" y="841.4" width="2.4" height="2.4" fill="#c8f0f0"/><rect x="1781.0" y="838.6" width="2.4" height="2.4" fill="#c8f0f0"/><rect x="1773.6" y="840.2" width="2.4" height="2.4" fill="#ffffff"/><rect x="1807.1" y="850.0" width="2.4" height="2.4" fill="#e8fbfa"/><rect x="1808.4" y="888.6" width="2.4" height="2.4" fill="#a0d8e8"/><rect x="1788.0" y="899.9" width="2.4" height="2.4" fill="#ffffff"/><rect x="1778.0" y="898.2" width="2.4" height="2.4" fill="#c8f0f0"/><rect x="1813.5" y="856.4" width="2.4" height="2.4" fill="#ffffff"/><rect x="1758.0" y="858.7" width="2.4" height="2.4" fill="#e8fbfa"/><rect x="1780.0" y="900.5" width="2.4" height="2.4" fill="#e8fbfa"/><rect x="1812.6" y="882.4" width="2.4" height="2.4" fill="#ffffff"/><rect x="1756.8" y="880.3" width="2.4" height="2.4" fill="#a0d8e8"/><rect x="1756.1" y="863.8" width="2.4" height="2.4" fill="#c8f0f0"/><rect x="1811.7" y="887.0" width="2.4" height="2.4" fill="#a0d8e8"/><rect x="1768.6" y="843.4" width="2.4" height="2.4" fill="#c8f0f0"/><rect x="1759.3" y="852.7" width="2.4" height="2.4" fill="#a0d8e8"/><rect x="1776.9" y="841.4" width="2.4" height="2.4" fill="#e8fbfa"/><rect x="1814.5" y="873.7" width="2.4" height="2.4" fill="#a0d8e8"/><rect x="1773.7" y="896.4" width="2.4" height="2.4" fill="#e8fbfa"/><rect x="1810.6" y="882.7" width="2.4" height="2.4" fill="#c8f0f0"/><rect x="1793.7" y="841.0" width="2.4" height="2.4" fill="#a0d8e8"/><rect x="1768.6" y="893.3" width="2.4" height="2.4" fill="#ffffff"/><rect x="1811.5" y="860.3" width="2.4" height="2.4" fill="#e8fbfa"/><rect x="1804.3" y="848.0" width="2.4" height="2.4" fill="#ffffff"/><rect x="1764.6" y="890.2" width="2.4" height="2.4" fill="#e8fbfa"/><rect x="1761.2" y="849.4" width="2.4" height="2.4" fill="#a0d8e8"/><rect x="1808.3" y="848.2" width="2.4" height="2.4" fill="#a0d8e8"/><rect x="1763.0" y="889.4" width="2.4" height="2.4" fill="#ffffff"/><rect x="1758.3" y="876.5" width="2.4" height="2.4" fill="#e8fbfa"/><rect x="1757.2" y="866.4" width="2.4" height="2.4" fill="#e8fbfa"/><rect x="1756.1" y="873.4" width="2.4" height="2.4" fill="#c8f0f0"/><rect x="1816.5" y="861.3" width="2.4" height="2.4" fill="#ffffff"/><rect x="1784.6" y="901.8" width="2.4" height="2.4" fill="#e8fbfa"/><rect x="1764.8" y="893.2" width="2.4" height="2.4" fill="#c8f0f0"/><rect x="1786.5" y="837.8" width="2.4" height="2.4" fill="#a0d8e8"/><rect x="1771.1" y="846.3" width="2.4" height="2.4" fill="#a0d8e8"/><rect x="1760.2" y="887.6" width="2.4" height="2.4" fill="#a0d8e8"/><rect x="1794.6" y="896.6" width="2.4" height="2.4" fill="#c8f0f0"/><rect x="1808.5" y="848.2" width="2.4" height="2.4" fill="#ffffff"/><rect x="1791.7" y="900.6" width="2.4" height="2.4" fill="#c8f0f0"/><rect x="1756.2" y="870.5" width="2.4" height="2.4" fill="#e8fbfa"/><rect x="1778.3" y="839.2" width="2.4" height="2.4" fill="#c8f0f0"/><rect x="1808.3" y="889.4" width="2.4" height="2.4" fill="#ffffff"/><rect x="1781.0" y="900.2" width="2.4" height="2.4" fill="#ffffff"/><rect x="1771.1" y="841.7" width="2.4" height="2.4" fill="#ffffff"/><rect x="1772.7" y="897.8" width="2.4" height="2.4" fill="#e8fbfa"/><rect x="1773.1" y="843.2" width="2.4" height="2.4" fill="#a0d8e8"/><rect x="1759.5" y="857.1" width="2.4" height="2.4" fill="#e8fbfa"/><rect x="1765.4" y="844.4" width="2.4" height="2.4" fill="#ffffff"/><rect x="1754.6" y="879.1" width="2.4" height="2.4" fill="#c8f0f0"/><rect x="1791.4" y="839.4" width="2.4" height="2.4" fill="#e8fbfa"/><rect x="1816.1" y="866.7" width="2.4" height="2.4" fill="#a0d8e8"/><rect x="1815.2" y="861.8" width="2.4" height="2.4" fill="#c8f0f0"/><rect x="1794.9" y="898.0" width="2.4" height="2.4" fill="#e8fbfa"/><rect x="1786.8" y="839.2" width="2.4" height="2.4" fill="#e8fbfa"/><rect x="1798.7" y="897.2" width="2.4" height="2.4" fill="#c8f0f0"/><rect x="1761.3" y="889.5" width="2.4" height="2.4" fill="#c8f0f0"/><rect x="1813.1" y="886.7" width="2.4" height="2.4" fill="#c8f0f0"/><rect x="1758.1" y="878.9" width="2.4" height="2.4" fill="#c8f0f0"/><rect x="1763.9" y="847.4" width="2.4" height="2.4" fill="#a0d8e8"/><rect x="1757.3" y="876.5" width="2.4" height="2.4" fill="#c8f0f0"/><rect x="1811.5" y="888.5" width="2.4" height="2.4" fill="#e8fbfa"/><rect x="1792.2" y="897.7" width="2.4" height="2.4" fill="#ffffff"/><rect x="1817.2" y="865.9" width="2.4" height="2.4" fill="#a0d8e8"/><rect x="1783.6" y="900.0" width="2.4" height="2.4" fill="#e8fbfa"/><rect x="1767.7" y="895.7" width="2.4" height="2.4" fill="#ffffff"/><rect x="1789.3" y="838.8" width="2.4" height="2.4" fill="#ffffff"/><rect x="1812.5" y="854.8" width="2.4" height="2.4" fill="#ffffff"/><rect x="1795.9" y="838.2" width="2.4" height="2.4" fill="#c8f0f0"/><rect x="1757.6" y="863.7" width="2.4" height="2.4" fill="#ffffff"/><rect x="1802.0" y="892.1" width="2.4" height="2.4" fill="#ffffff"/><rect x="1811.0" y="860.7" width="2.4" height="2.4" fill="#e8fbfa"/><rect x="1787.3" y="839.2" width="2.4" height="2.4" fill="#ffffff"/><rect x="1756.8" y="864.8" width="2.4" height="2.4" fill="#c8f0f0"/><rect x="1754.0" y="865.1" width="2.4" height="2.4" fill="#a0d8e8"/><rect x="1775.2" y="896.2" width="2.4" height="2.4" fill="#c8f0f0"/><rect x="1775.1" y="900.2" width="2.4" height="2.4" fill="#c8f0f0"/><rect x="1813.5" y="864.1" width="2.4" height="2.4" fill="#c8f0f0"/><rect x="1760.6" y="885.8" width="2.4" height="2.4" fill="#e8fbfa"/><rect x="1756.1" y="869.2" width="2.4" height="2.4" fill="#e8fbfa"/><rect x="1756.1" y="866.8" width="2.4" height="2.4" fill="#ffffff"/><rect x="1756.3" y="861.3" width="2.4" height="2.4" fill="#e8fbfa"/><rect x="1774.9" y="841.4" width="2.4" height="2.4" fill="#e8fbfa"/><rect x="1810.3" y="858.2" width="2.4" height="2.4" fill="#ffffff"/><rect x="1782.1" y="900.9" width="2.4" height="2.4" fill="#ffffff"/><rect x="1757.4" y="871.1" width="2.4" height="2.4" fill="#ffffff"/><rect x="1753.7" y="864.6" width="2.4" height="2.4" fill="#e8fbfa"/><rect x="1795.8" y="896.1" width="2.4" height="2.4" fill="#c8f0f0"/><rect x="1777.5" y="842.7" width="2.4" height="2.4" fill="#e8fbfa"/><rect x="1815.2" y="876.6" width="2.4" height="2.4" fill="#a0d8e8"/><rect x="1772.6" y="897.4" width="2.4" height="2.4" fill="#a0d8e8"/><rect x="1786.8" y="898.7" width="2.4" height="2.4" fill="#e8fbfa"/><rect x="1803.7" y="845.3" width="2.4" height="2.4" fill="#a0d8e8"/><rect x="1779.9" y="840.8" width="2.4" height="2.4" fill="#e8fbfa"/><rect x="1766.4" y="889.4" width="2.4" height="2.4" fill="#ffffff"/><rect x="1798.9" y="843.8" width="2.4" height="2.4" fill="#c8f0f0"/><rect x="1757.4" y="864.4" width="2.4" height="2.4" fill="#c8f0f0"/><rect x="1789.0" y="900.0" width="2.4" height="2.4" fill="#c8f0f0"/><rect x="1774.7" y="895.4" width="2.4" height="2.4" fill="#a0d8e8"/><rect x="1809.6" y="849.9" width="2.4" height="2.4" fill="#c8f0f0"/><rect x="1810.3" y="848.5" width="2.4" height="2.4" fill="#c8f0f0"/><rect x="1809.1" y="850.0" width="2.4" height="2.4" fill="#ffffff"/><rect x="1810.7" y="887.5" width="2.4" height="2.4" fill="#ffffff"/><rect x="1757.1" y="861.7" width="2.4" height="2.4" fill="#e8fbfa"/><rect x="1809.8" y="886.6" width="2.4" height="2.4" fill="#a0d8e8"/><rect x="1811.8" y="853.3" width="2.4" height="2.4" fill="#a0d8e8"/><rect x="1755.9" y="869.3" width="2.4" height="2.4" fill="#c8f0f0"/><rect x="1795.5" y="841.3" width="2.4" height="2.4" fill="#ffffff"/><rect x="1804.0" y="894.1" width="2.4" height="2.4" fill="#c8f0f0"/><rect x="1808.6" y="890.2" width="2.4" height="2.4" fill="#a0d8e8"/><rect x="1813.3" y="856.0" width="2.4" height="2.4" fill="#e8fbfa"/><rect x="1758.3" y="854.5" width="2.4" height="2.4" fill="#e8fbfa"/><rect x="1788.7" y="837.9" width="2.4" height="2.4" fill="#a0d8e8"/><rect x="1772.2" y="881.0" width="2.4" height="2.4" fill="#4a62b0"/><rect x="1766.9" y="878.7" width="2.4" height="2.4" fill="#0c1030"/><rect x="1782.2" y="865.7" width="2.4" height="2.4" fill="#151a48"/><rect x="1793.4" y="886.3" width="2.4" height="2.4" fill="#1a2050"/><rect x="1768.0" y="888.7" width="2.4" height="2.4" fill="#8ab8e0"/><rect x="1795.6" y="886.4" width="2.4" height="2.4" fill="#0c1030"/><rect x="1782.3" y="876.8" width="2.4" height="2.4" fill="#1a2050"/><rect x="1804.1" y="851.7" width="2.4" height="2.4" fill="#6a8cd0"/><rect x="1775.1" y="864.8" width="2.4" height="2.4" fill="#8ab8e0"/><rect x="1809.9" y="867.2" width="2.4" height="2.4" fill="#4a62b0"/><rect x="1784.1" y="878.8" width="2.4" height="2.4" fill="#1a2050"/><rect x="1790.1" y="845.8" width="2.4" height="2.4" fill="#6a8cd0"/><rect x="1796.2" y="881.3" width="2.4" height="2.4" fill="#8ab8e0"/><rect x="1777.8" y="847.6" width="2.4" height="2.4" fill="#151a48"/><rect x="1766.8" y="882.6" width="2.4" height="2.4" fill="#0c1030"/><rect x="1790.1" y="855.6" width="2.4" height="2.4" fill="#0c1030"/><rect x="1801.9" y="870.9" width="2.4" height="2.4" fill="#1a2050"/><rect x="1790.7" y="866.3" width="2.4" height="2.4" fill="#4a62b0"/><rect x="1806.5" y="862.3" width="2.4" height="2.4" fill="#4a62b0"/><rect x="1789.4" y="886.6" width="2.4" height="2.4" fill="#151a48"/><rect x="1769.3" y="866.3" width="2.4" height="2.4" fill="#6a8cd0"/><rect x="1771.6" y="852.2" width="2.4" height="2.4" fill="#6a8cd0"/><rect x="1789.8" y="869.3" width="2.4" height="2.4" fill="#8ab8e0"/><rect x="1796.0" y="878.1" width="2.4" height="2.4" fill="#6a8cd0"/><rect x="1780.9" y="873.3" width="2.4" height="2.4" fill="#151a48"/><rect x="1784.1" y="867.6" width="2.4" height="2.4" fill="#4a62b0"/><rect x="1785.7" y="895.5" width="2.4" height="2.4" fill="#8ab8e0"/><rect x="1769.0" y="865.4" width="2.4" height="2.4" fill="#8ab8e0"/><rect x="1761.3" y="858.6" width="2.4" height="2.4" fill="#1a2050"/><rect x="1765.4" y="877.2" width="2.4" height="2.4" fill="#8ab8e0"/><rect x="1766.6" y="856.3" width="2.4" height="2.4" fill="#0c1030"/><rect x="1766.0" y="886.9" width="2.4" height="2.4" fill="#6a8cd0"/><rect x="1774.9" y="871.8" width="2.4" height="2.4" fill="#6a8cd0"/><rect x="1765.7" y="864.4" width="2.4" height="2.4" fill="#6a8cd0"/><rect x="1802.3" y="863.9" width="2.4" height="2.4" fill="#8ab8e0"/><rect x="1773.7" y="878.8" width="2.4" height="2.4" fill="#8ab8e0"/><rect x="1780.9" y="891.1" width="2.4" height="2.4" fill="#8ab8e0"/><rect x="1805.7" y="860.4" width="2.4" height="2.4" fill="#1a2050"/><rect x="1784.9" y="872.9" width="2.4" height="2.4" fill="#151a48"/><rect x="1767.4" y="858.8" width="2.4" height="2.4" fill="#6a8cd0"/><rect x="1786.3" y="852.9" width="2.4" height="2.4" fill="#4a62b0"/><rect x="1785.7" y="863.8" width="2.4" height="2.4" fill="#1a2050"/><rect x="1792.7" y="867.3" width="2.4" height="2.4" fill="#151a48"/><rect x="1768.9" y="877.8" width="2.4" height="2.4" fill="#151a48"/><rect x="1793.9" y="872.2" width="2.4" height="2.4" fill="#1a2050"/><rect x="1794.4" y="864.3" width="2.4" height="2.4" fill="#151a48"/><rect x="1778.5" y="864.2" width="2.4" height="2.4" fill="#8ab8e0"/><rect x="1777.8" y="874.4" width="2.4" height="2.4" fill="#0c1030"/><rect x="1779.2" y="878.1" width="2.4" height="2.4" fill="#4a62b0"/><rect x="1765.1" y="877.6" width="2.4" height="2.4" fill="#6a8cd0"/><rect x="1768.4" y="857.0" width="2.4" height="2.4" fill="#1a2050"/><rect x="1765.0" y="881.3" width="2.4" height="2.4" fill="#8ab8e0"/><rect x="1789.8" y="860.6" width="2.4" height="2.4" fill="#4a62b0"/><rect x="1784.5" y="856.7" width="2.4" height="2.4" fill="#0c1030"/><rect x="1770.8" y="869.5" width="2.4" height="2.4" fill="#8ab8e0"/><rect x="1774.4" y="858.4" width="2.4" height="2.4" fill="#4a62b0"/><rect x="1768.1" y="855.2" width="2.4" height="2.4" fill="#1a2050"/><rect x="1767.8" y="858.1" width="2.4" height="2.4" fill="#151a48"/><rect x="1790.8" y="882.3" width="2.4" height="2.4" fill="#1a2050"/><rect x="1807.6" y="857.0" width="2.4" height="2.4" fill="#0c1030"/><rect x="1784.0" y="867.9" width="2.4" height="2.4" fill="#4a62b0"/><rect x="1766.8" y="879.5" width="2.4" height="2.4" fill="#0c1030"/><rect x="1788.2" y="883.8" width="2.4" height="2.4" fill="#0c1030"/><rect x="1795.0" y="864.2" width="2.4" height="2.4" fill="#151a48"/><rect x="1774.6" y="857.7" width="2.4" height="2.4" fill="#6a8cd0"/><rect x="1776.2" y="882.3" width="2.4" height="2.4" fill="#6a8cd0"/><rect x="1785.0" y="845.1" width="2.4" height="2.4" fill="#0c1030"/><rect x="1791.6" y="852.7" width="2.4" height="2.4" fill="#8ab8e0"/><rect x="1798.2" y="849.7" width="2.4" height="2.4" fill="#6a8cd0"/><rect x="1773.6" y="876.1" width="2.4" height="2.4" fill="#151a48"/><rect x="1771.0" y="885.8" width="2.4" height="2.4" fill="#8ab8e0"/><rect x="1776.7" y="887.6" width="2.4" height="2.4" fill="#1a2050"/><rect x="1791.1" y="859.5" width="2.4" height="2.4" fill="#1a2050"/><rect x="1780.1" y="876.0" width="2.4" height="2.4" fill="#4a62b0"/><rect x="1792.7" y="873.5" width="2.4" height="2.4" fill="#8ab8e0"/><rect x="1763.6" y="859.7" width="2.4" height="2.4" fill="#6a8cd0"/><rect x="1778.6" y="892.5" width="2.4" height="2.4" fill="#0c1030"/><rect x="1776.3" y="893.7" width="2.4" height="2.4" fill="#8ab8e0"/><rect x="1798.8" y="877.1" width="2.4" height="2.4" fill="#1a2050"/><rect x="1787.2" y="854.4" width="2.4" height="2.4" fill="#151a48"/><rect x="1790.1" y="891.3" width="2.4" height="2.4" fill="#4a62b0"/><rect x="1779.6" y="876.7" width="2.4" height="2.4" fill="#1a2050"/><rect x="1766.4" y="877.3" width="2.4" height="2.4" fill="#1a2050"/><rect x="1801.1" y="860.5" width="2.4" height="2.4" fill="#4a62b0"/><rect x="1773.5" y="873.1" width="2.4" height="2.4" fill="#1a2050"/><rect x="1796.4" y="861.5" width="2.4" height="2.4" fill="#4a62b0"/><rect x="1787.8" y="866.1" width="2.4" height="2.4" fill="#1a2050"/><rect x="1772.5" y="880.1" width="2.4" height="2.4" fill="#151a48"/><rect x="1784.7" y="853.5" width="2.4" height="2.4" fill="#6a8cd0"/><rect x="1761.9" y="863.6" width="2.4" height="2.4" fill="#8ab8e0"/><rect x="1789.4" y="877.1" width="2.4" height="2.4" fill="#6a8cd0"/><rect x="1796.3" y="860.1" width="2.4" height="2.4" fill="#0c1030"/><rect x="1787.0" y="876.2" width="2.4" height="2.4" fill="#151a48"/><rect x="1761.6" y="858.9" width="2.4" height="2.4" fill="#1a2050"/><rect x="1795.4" y="855.1" width="2.4" height="2.4" fill="#8ab8e0"/><rect x="1762.9" y="862.9" width="2.4" height="2.4" fill="#0c1030"/><rect x="1778.6" y="882.0" width="2.4" height="2.4" fill="#0c1030"/><rect x="1792.1" y="865.1" width="2.4" height="2.4" fill="#1a2050"/><rect x="1781.0" y="862.9" width="2.4" height="2.4" fill="#1a2050"/><rect x="1765.7" y="880.5" width="2.4" height="2.4" fill="#6a8cd0"/><rect x="1787.7" y="850.4" width="2.4" height="2.4" fill="#6a8cd0"/><rect x="1773.4" y="879.5" width="2.4" height="2.4" fill="#4a62b0"/><rect x="1776.9" y="853.0" width="2.4" height="2.4" fill="#8ab8e0"/><rect x="1788.3" y="863.0" width="2.4" height="2.4" fill="#8ab8e0"/><rect x="1800.7" y="861.0" width="2.4" height="2.4" fill="#1a2050"/><rect x="1784.8" y="871.2" width="2.4" height="2.4" fill="#6a8cd0"/><rect x="1798.6" y="847.8" width="2.4" height="2.4" fill="#8ab8e0"/><rect x="1773.4" y="854.7" width="2.4" height="2.4" fill="#1a2050"/><rect x="1794.7" y="870.4" width="2.4" height="2.4" fill="#6a8cd0"/><rect x="1797.3" y="863.0" width="2.4" height="2.4" fill="#151a48"/><path d="M1776,876 L1798,866 M1776,866 L1798,876" stroke="#a8dcec" stroke-width="2" opacity="0.8"/><rect x="1814.9" y="698.8" width="2.6" height="2.6" fill="#e6f6f8"/><rect x="1652.7" y="759.0" width="2.6" height="2.6" fill="#e6f6f8"/><rect x="1947.5" y="810.2" width="2.6" height="2.6" fill="#e6f6f8"/><rect x="1622.1" y="930.4" width="2.6" height="2.6" fill="#e6f6f8"/><rect x="1917.7" y="981.2" width="2.6" height="2.6" fill="#e6f6f8"/><rect x="1754.7" y="1041.7" width="2.6" height="2.6" fill="#e6f6f8"/><circle cx="1732.7" cy="801.7" r="3.5" fill="#3c4a92" filter="url(#bl1)"/><circle cx="1707.5" cy="828.8" r="3.5" fill="#3c4a92" filter="url(#bl1)"/><circle cx="1866.5" cy="912.2" r="3.5" fill="#3c4a92" filter="url(#bl1)"/><circle cx="1839.3" cy="939.4" r="3.5" fill="#3c4a92" filter="url(#bl1)"/></g>
<rect x="357" y="646.5" width="133" height="30" fill="rgba(244,236,236,0.82)"/><text x="491" y="666.5" text-anchor="end" font-family="'Liberation Sans', Arial, sans-serif" font-size="25" fill="#45302e"><tspan font-style="italic">g</tspan>(<tspan font-weight="bold">r</tspan>, 3.1 mV)</text>
<rect x="858" y="646.5" width="139" height="30" fill="#acadb2"/><text x="998" y="666.5" text-anchor="end" font-family="'Liberation Sans', Arial, sans-serif" font-size="25" fill="#111"><tspan font-style="italic">g</tspan>(<tspan font-weight="bold">q</tspan>, 3.1 mV)</text>
<rect x="1377.5" y="646.5" width="126.5" height="30" fill="rgba(244,236,236,0.82)"/><text x="1505" y="666.5" text-anchor="end" font-family="'Liberation Sans', Arial, sans-serif" font-size="25" fill="#45302e"><tspan font-style="italic">g</tspan>(<tspan font-weight="bold">r</tspan>, 10 mV)</text>
<rect x="1880" y="646.5" width="131" height="30" fill="#acadb2"/><text x="2012" y="666.5" text-anchor="end" font-family="'Liberation Sans', Arial, sans-serif" font-size="25" fill="#111"><tspan font-style="italic">g</tspan>(<tspan font-weight="bold">q</tspan>, 10 mV)</text>
<g fill="#fff">
<rect x="54.5" y="1064.2" width="76.5" height="8.6"/>
<rect x="563.2" y="1064.2" width="103" height="8.6"/>
<rect x="1070" y="1064.2" width="77" height="8.6"/>
<rect x="1580" y="1064.2" width="102.6" height="8.6"/>
</g>
<text x="4" y="661.5" font-family="'Liberation Sans', Arial, sans-serif" font-size="32" font-weight="bold" text-anchor="start" fill="#000" >d</text>
<text x="510.5" y="661.5" font-family="'Liberation Sans', Arial, sans-serif" font-size="32" font-weight="bold" text-anchor="start" fill="#000" >e</text>
<text x="1017.5" y="661.5" font-family="'Liberation Sans', Arial, sans-serif" font-size="32" font-weight="bold" text-anchor="start" fill="#000" >f</text>
<text x="1526" y="661.5" font-family="'Liberation Sans', Arial, sans-serif" font-size="32" font-weight="bold" text-anchor="start" fill="#000" >g</text>
<rect x="125.1" y="1117.2" width="280.3" height="38" fill="url(#gr)" stroke="#222" stroke-width="2"/>
<text x="39.400000000000006" y="1145.5" font-family="'Liberation Sans', Arial, sans-serif" font-size="29.5" font-weight="normal" text-anchor="start" fill="#000" >Low</text>
<text x="427.59999999999997" y="1145.5" font-family="'Liberation Sans', Arial, sans-serif" font-size="29.5" font-weight="normal" text-anchor="start" fill="#000" >High</text>
<rect x="633.3" y="1117.2" width="279.7" height="38" fill="url(#gb)" stroke="#222" stroke-width="2"/>
<text x="548.2" y="1145.5" font-family="'Liberation Sans', Arial, sans-serif" font-size="29.5" font-weight="normal" text-anchor="start" fill="#000" >Low</text>
<text x="935.2" y="1145.5" font-family="'Liberation Sans', Arial, sans-serif" font-size="29.5" font-weight="normal" text-anchor="start" fill="#000" >High</text>
<rect x="1145.1" y="1117.2" width="279.8" height="38" fill="url(#gr)" stroke="#222" stroke-width="2"/>
<text x="1058.9" y="1145.5" font-family="'Liberation Sans', Arial, sans-serif" font-size="29.5" font-weight="normal" text-anchor="start" fill="#000" >Low</text>
<text x="1447.1000000000001" y="1145.5" font-family="'Liberation Sans', Arial, sans-serif" font-size="29.5" font-weight="normal" text-anchor="start" fill="#000" >High</text>
<rect x="1647.4" y="1117.2" width="279.8" height="38" fill="url(#gb)" stroke="#222" stroke-width="2"/>
<text x="1561.2" y="1145.5" font-family="'Liberation Sans', Arial, sans-serif" font-size="29.5" font-weight="normal" text-anchor="start" fill="#000" >Low</text>
<text x="1949.4" y="1145.5" font-family="'Liberation Sans', Arial, sans-serif" font-size="29.5" font-weight="normal" text-anchor="start" fill="#000" >High</text>
</svg>
</body></html>
